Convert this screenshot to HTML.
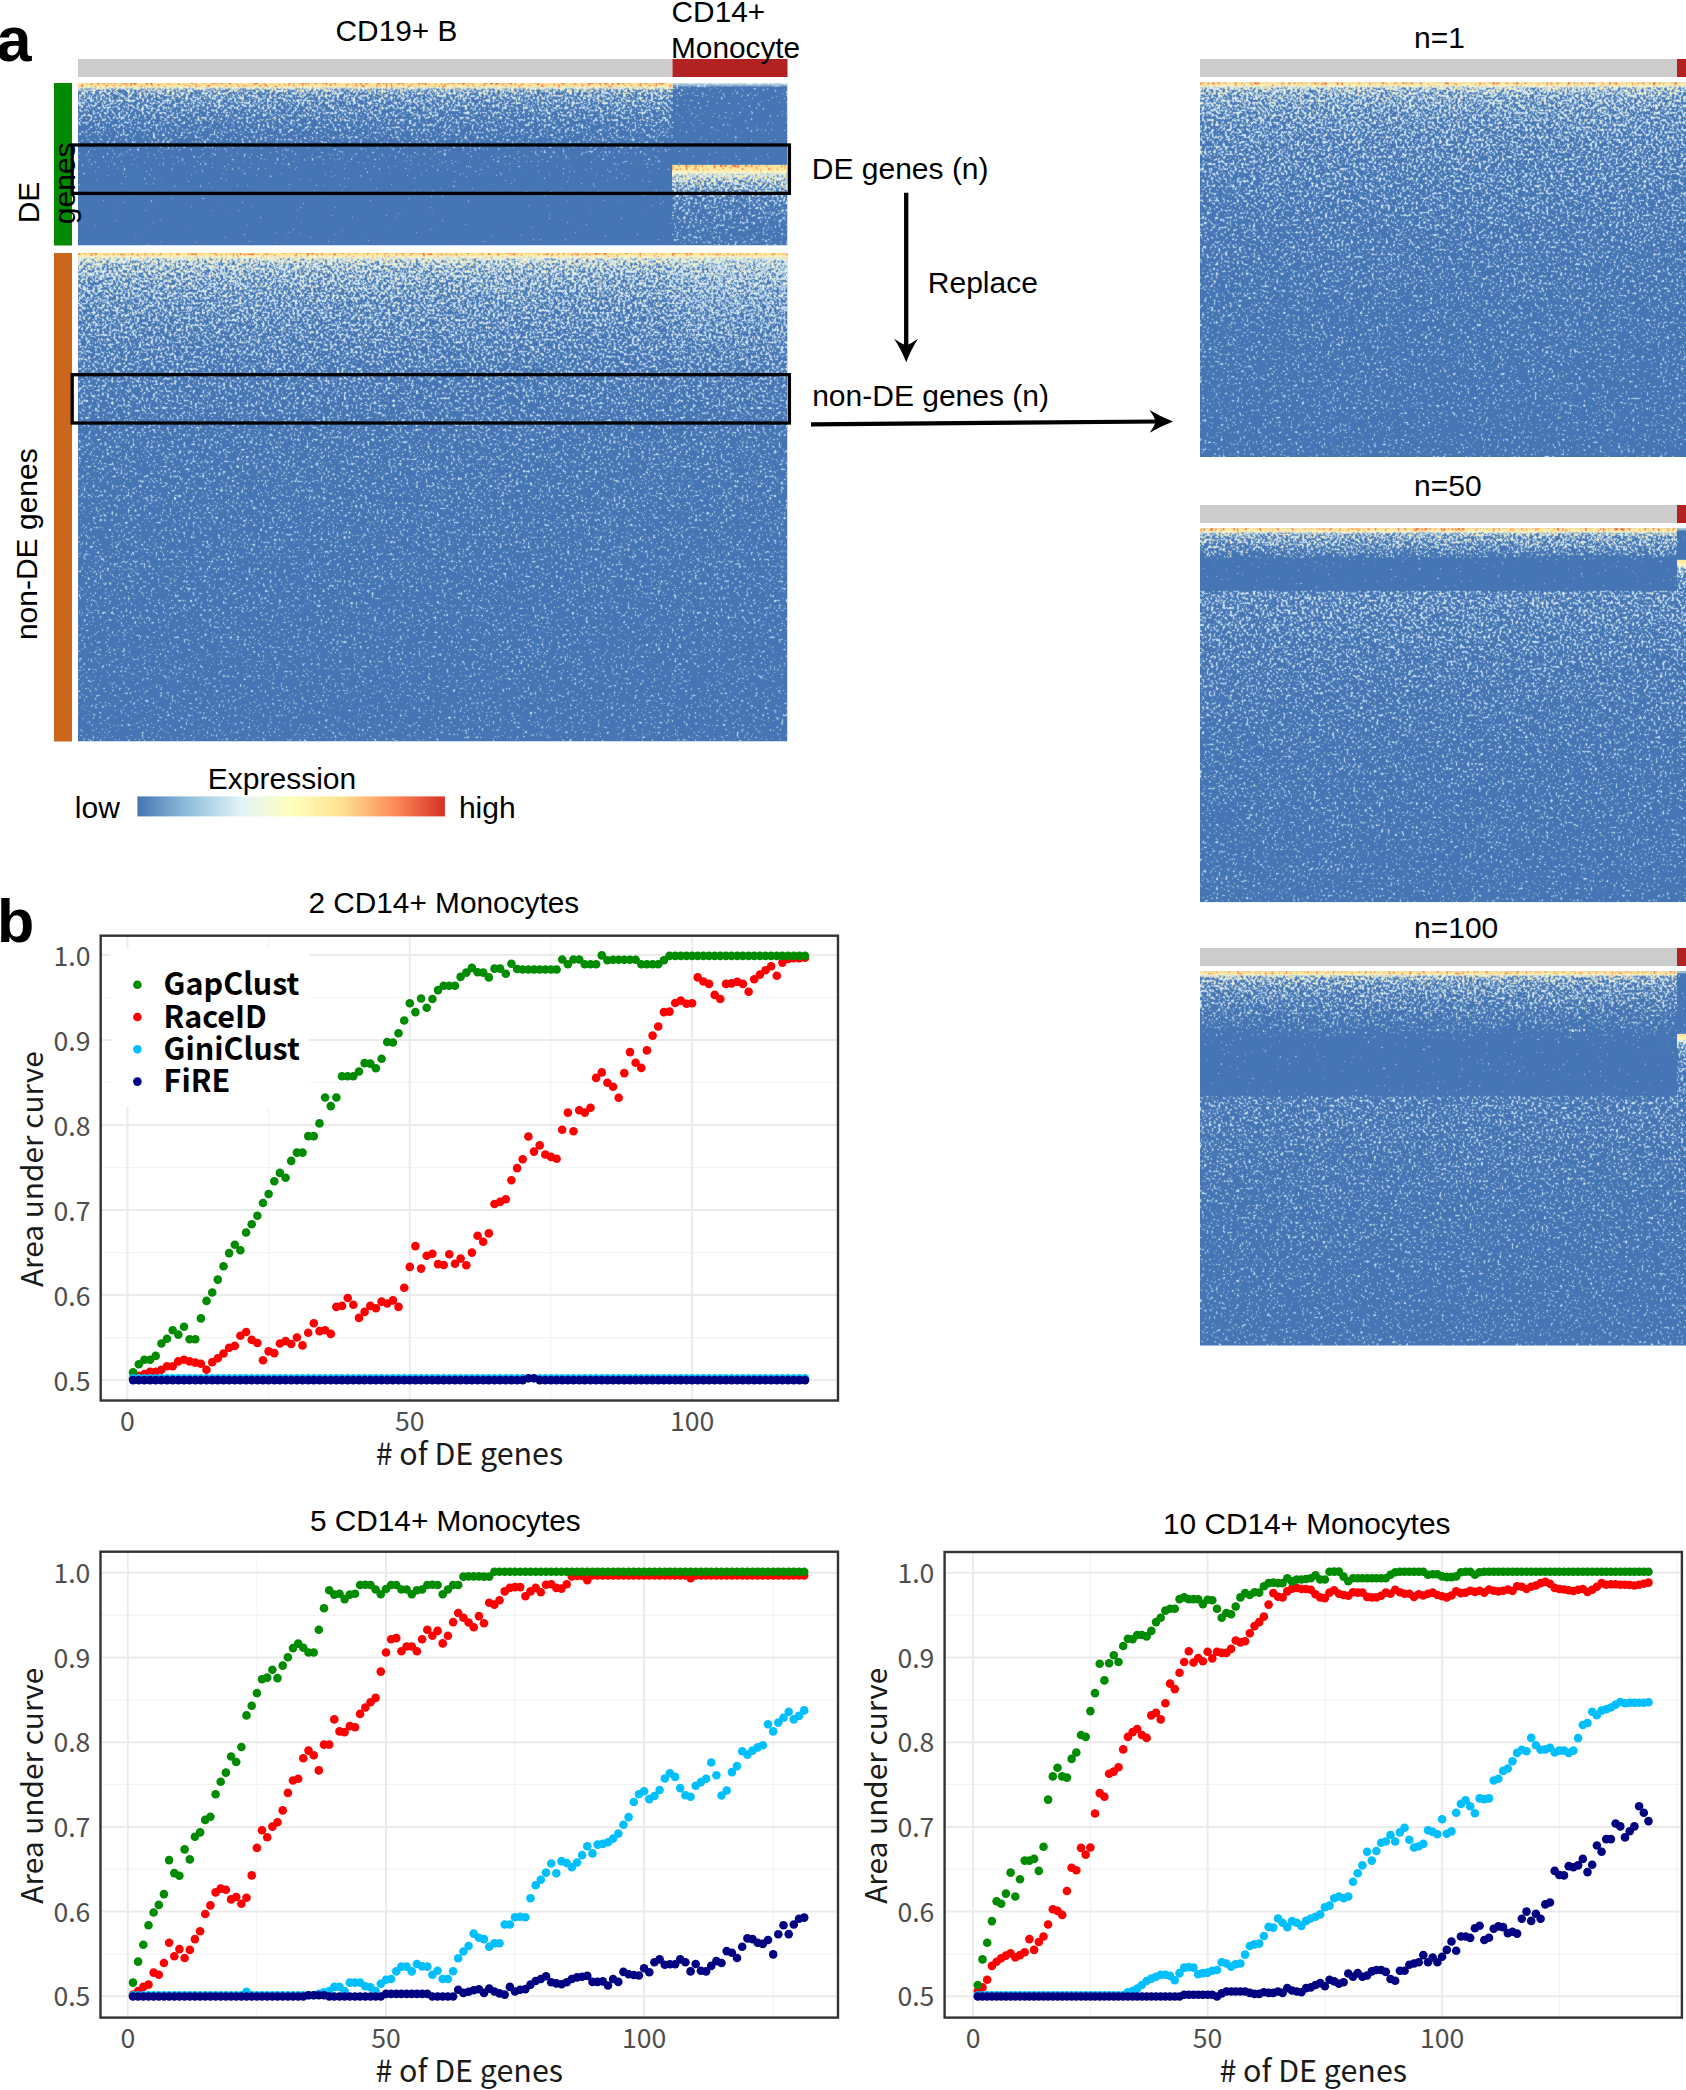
<!DOCTYPE html>
<html lang="en"><head><meta charset="utf-8"><title>Figure</title>
<style>html,body{margin:0;padding:0;background:#fff}svg{display:block}.t{font-family:"Liberation Sans", Arial, Helvetica, sans-serif;fill:#000}.p{font-family:"Noto Sans CJK SC", "Noto Sans CJK JP", "Liberation Sans", sans-serif}</style></head><body>
<svg width="1686" height="2090" viewBox="0 0 1686 2090">
<defs>
<filter id="nz" x="0" y="0" width="1" height="1" color-interpolation-filters="sRGB">
<feTurbulence type="fractalNoise" baseFrequency="0.43 0.41" numOctaves="2" seed="3" result="n"/>
<feColorMatrix in="n" type="matrix" values="0 0 0 0 0  0 0 0 0 0  0 0 0 0 0  0 0 0 1 0" result="na"/>
<feComposite in="na" in2="SourceGraphic" operator="arithmetic" k1="0" k2="1" k3="1" k4="-1" result="s"/>
<feComponentTransfer in="s" result="m1"><feFuncA type="linear" slope="40" intercept="0"/></feComponentTransfer>
<feFlood flood-color="#b2d4ea" result="c1"/><feComposite in="c1" in2="m1" operator="in" result="l1"/>
<feComponentTransfer in="s" result="m2"><feFuncA type="linear" slope="40" intercept="-2.8000000000000003"/></feComponentTransfer>
<feFlood flood-color="#deeef6" result="c2"/><feComposite in="c2" in2="m2" operator="in" result="l2"/>
<feComponentTransfer in="s" result="m3"><feFuncA type="linear" slope="40" intercept="-8.0"/></feComponentTransfer>
<feFlood flood-color="#fdf6c4" result="c3"/><feComposite in="c3" in2="m3" operator="in" result="l3"/>
<feMerge result="mg"><feMergeNode in="l1"/><feMergeNode in="l2"/><feMergeNode in="l3"/></feMerge>
<feConvolveMatrix in="mg" order="3" kernelMatrix="1 2 1 2 14 2 1 2 1" preserveAlpha="false" edgeMode="duplicate"/>
</filter>
<filter id="nz2" x="0" y="0" width="1" height="1" color-interpolation-filters="sRGB">
<feTurbulence type="fractalNoise" baseFrequency="0.43 0.41" numOctaves="2" seed="11" result="n"/>
<feColorMatrix in="n" type="matrix" values="0 0 0 0 0  0 0 0 0 0  0 0 0 0 0  0 0 0 1 0" result="na"/>
<feComposite in="na" in2="SourceGraphic" operator="arithmetic" k1="0" k2="1" k3="1" k4="-1" result="s"/>
<feComponentTransfer in="s" result="m1"><feFuncA type="linear" slope="40" intercept="0"/></feComponentTransfer>
<feFlood flood-color="#b2d4ea" result="c1"/><feComposite in="c1" in2="m1" operator="in" result="l1"/>
<feComponentTransfer in="s" result="m2"><feFuncA type="linear" slope="40" intercept="-2.8000000000000003"/></feComponentTransfer>
<feFlood flood-color="#deeef6" result="c2"/><feComposite in="c2" in2="m2" operator="in" result="l2"/>
<feComponentTransfer in="s" result="m3"><feFuncA type="linear" slope="40" intercept="-8.0"/></feComponentTransfer>
<feFlood flood-color="#fdf6c4" result="c3"/><feComposite in="c3" in2="m3" operator="in" result="l3"/>
<feMerge result="mg"><feMergeNode in="l1"/><feMergeNode in="l2"/><feMergeNode in="l3"/></feMerge>
<feConvolveMatrix in="mg" order="3" kernelMatrix="1 2 1 2 14 2 1 2 1" preserveAlpha="false" edgeMode="duplicate"/>
</filter>
<filter id="nzy" x="0" y="0" width="1" height="1" color-interpolation-filters="sRGB">
<feTurbulence type="fractalNoise" baseFrequency="0.43 0.41" numOctaves="2" seed="5" result="n"/>
<feColorMatrix in="n" type="matrix" values="0 0 0 0 0  0 0 0 0 0  0 0 0 0 0  0 0 0 1 0" result="na"/>
<feComposite in="na" in2="SourceGraphic" operator="arithmetic" k1="0" k2="1" k3="1" k4="-1" result="s"/>
<feComponentTransfer in="s" result="m1"><feFuncA type="linear" slope="40" intercept="0"/></feComponentTransfer>
<feFlood flood-color="#eef3d6" result="c1"/><feComposite in="c1" in2="m1" operator="in" result="l1"/>
<feComponentTransfer in="s" result="m2"><feFuncA type="linear" slope="40" intercept="-2.0"/></feComponentTransfer>
<feFlood flood-color="#fcf3b8" result="c2"/><feComposite in="c2" in2="m2" operator="in" result="l2"/>
<feComponentTransfer in="s" result="m3"><feFuncA type="linear" slope="40" intercept="-4.8"/></feComponentTransfer>
<feFlood flood-color="#fedd8f" result="c3"/><feComposite in="c3" in2="m3" operator="in" result="l3"/>
<feMerge result="mg"><feMergeNode in="l1"/><feMergeNode in="l2"/><feMergeNode in="l3"/></feMerge>
<feConvolveMatrix in="mg" order="3" kernelMatrix="1 2 1 2 14 2 1 2 1" preserveAlpha="false" edgeMode="duplicate"/>
</filter>
<filter id="nzo" x="0" y="0" width="1" height="1" color-interpolation-filters="sRGB">
<feTurbulence type="fractalNoise" baseFrequency="0.43 0.41" numOctaves="2" seed="7" result="n"/>
<feColorMatrix in="n" type="matrix" values="0 0 0 0 0  0 0 0 0 0  0 0 0 0 0  0 0 0 1 0" result="na"/>
<feComposite in="na" in2="SourceGraphic" operator="arithmetic" k1="0" k2="1" k3="1" k4="-1" result="s"/>
<feComponentTransfer in="s" result="m1"><feFuncA type="linear" slope="40" intercept="0"/></feComponentTransfer>
<feFlood flood-color="#fdc47a" result="c1"/><feComposite in="c1" in2="m1" operator="in" result="l1"/>
<feComponentTransfer in="s" result="m2"><feFuncA type="linear" slope="40" intercept="-2.4"/></feComponentTransfer>
<feFlood flood-color="#f89a58" result="c2"/><feComposite in="c2" in2="m2" operator="in" result="l2"/>
<feComponentTransfer in="s" result="m3"><feFuncA type="linear" slope="40" intercept="-5.2"/></feComponentTransfer>
<feFlood flood-color="#e65f3c" result="c3"/><feComposite in="c3" in2="m3" operator="in" result="l3"/>
<feMerge result="mg"><feMergeNode in="l1"/><feMergeNode in="l2"/><feMergeNode in="l3"/></feMerge>
<feConvolveMatrix in="mg" order="3" kernelMatrix="1 2 1 2 14 2 1 2 1" preserveAlpha="false" edgeMode="duplicate"/>
</filter>
<linearGradient id="dDEb" gradientUnits="userSpaceOnUse" x1="0" y1="83" x2="0" y2="245.5"><stop offset="0.0000" stop-color="#000" stop-opacity="0.561"/><stop offset="0.0369" stop-color="#000" stop-opacity="0.490"/><stop offset="0.1046" stop-color="#000" stop-opacity="0.474"/><stop offset="0.1785" stop-color="#000" stop-opacity="0.443"/><stop offset="0.2585" stop-color="#000" stop-opacity="0.405"/><stop offset="0.3508" stop-color="#000" stop-opacity="0.372"/><stop offset="0.3877" stop-color="#000" stop-opacity="0.319"/><stop offset="0.4615" stop-color="#000" stop-opacity="0.296"/><stop offset="0.5231" stop-color="#000" stop-opacity="0.275"/><stop offset="0.5969" stop-color="#000" stop-opacity="0.235"/><stop offset="0.7200" stop-color="#000" stop-opacity="0.212"/><stop offset="1.0000" stop-color="#000" stop-opacity="0.197"/></linearGradient>
<linearGradient id="dDEm" gradientUnits="userSpaceOnUse" x1="0" y1="83" x2="0" y2="245.5"><stop offset="0.0000" stop-color="#000" stop-opacity="0.490"/><stop offset="0.0246" stop-color="#000" stop-opacity="0.330"/><stop offset="0.1046" stop-color="#000" stop-opacity="0.302"/><stop offset="0.2892" stop-color="#000" stop-opacity="0.282"/><stop offset="0.4123" stop-color="#000" stop-opacity="0.247"/><stop offset="0.5058" stop-color="#000" stop-opacity="0.240"/><stop offset="0.5065" stop-color="#000" stop-opacity="0.741"/><stop offset="0.5477" stop-color="#000" stop-opacity="0.676"/><stop offset="0.5600" stop-color="#000" stop-opacity="0.570"/><stop offset="0.6092" stop-color="#000" stop-opacity="0.526"/><stop offset="0.6585" stop-color="#000" stop-opacity="0.477"/><stop offset="0.7015" stop-color="#000" stop-opacity="0.443"/><stop offset="0.7815" stop-color="#000" stop-opacity="0.409"/><stop offset="0.8738" stop-color="#000" stop-opacity="0.377"/><stop offset="1.0000" stop-color="#000" stop-opacity="0.346"/></linearGradient>
<linearGradient id="dND" gradientUnits="userSpaceOnUse" x1="0" y1="253" x2="0" y2="741.5"><stop offset="0.0000" stop-color="#000" stop-opacity="0.659"/><stop offset="0.0123" stop-color="#000" stop-opacity="0.595"/><stop offset="0.0246" stop-color="#000" stop-opacity="0.547"/><stop offset="0.0553" stop-color="#000" stop-opacity="0.511"/><stop offset="0.0962" stop-color="#000" stop-opacity="0.483"/><stop offset="0.1576" stop-color="#000" stop-opacity="0.455"/><stop offset="0.2395" stop-color="#000" stop-opacity="0.419"/><stop offset="0.3419" stop-color="#000" stop-opacity="0.377"/><stop offset="0.5056" stop-color="#000" stop-opacity="0.354"/><stop offset="0.6694" stop-color="#000" stop-opacity="0.341"/><stop offset="1.0000" stop-color="#000" stop-opacity="0.319"/></linearGradient>
<linearGradient id="top" x1="0" y1="0" x2="0" y2="1"><stop offset="0" stop-color="#fedc8c" stop-opacity="1"/><stop offset="0.4" stop-color="#ffeeaa" stop-opacity="1"/><stop offset="0.62" stop-color="#fbf5c6" stop-opacity="0.8"/><stop offset="0.8" stop-color="#eef4dc" stop-opacity="0.4"/><stop offset="1" stop-color="#dcedf0" stop-opacity="0"/></linearGradient>
<linearGradient id="topm" x1="0" y1="0" x2="0" y2="1"><stop offset="0" stop-color="#e8f1e4" stop-opacity="0.9"/><stop offset="0.5" stop-color="#cfe6ee" stop-opacity="0.5"/><stop offset="1" stop-color="#cfe6ee" stop-opacity="0"/></linearGradient>
<linearGradient id="band" x1="0" y1="0" x2="0" y2="1"><stop offset="0" stop-color="#fee496" stop-opacity="1"/><stop offset="0.5" stop-color="#fff2b2" stop-opacity="1"/><stop offset="0.62" stop-color="#f3f6d3" stop-opacity="0.7"/><stop offset="1" stop-color="#d4e9ef" stop-opacity="0.0"/></linearGradient>
<linearGradient id="cbar" x1="0" y1="0" x2="1" y2="0"><stop offset="0" stop-color="#4575b4" stop-opacity="1"/><stop offset="0.1667" stop-color="#91bfdb" stop-opacity="1"/><stop offset="0.3333" stop-color="#e0f3f8" stop-opacity="1"/><stop offset="0.5" stop-color="#ffffbf" stop-opacity="1"/><stop offset="0.6667" stop-color="#fee090" stop-opacity="1"/><stop offset="0.8333" stop-color="#fc8d59" stop-opacity="1"/><stop offset="1" stop-color="#d73027" stop-opacity="1"/></linearGradient>
</defs>
<rect width="1686" height="2090" fill="#fff"/>
<g id="heat-left">
<rect x="78" y="59" width="594.5" height="18" fill="#cccccc"/><rect x="672.5" y="59" width="115" height="18" fill="#b22222"/>
<rect x="54" y="83" width="18" height="162.5" fill="#008b00"/><rect x="54" y="253" width="18" height="488.5" fill="#cd661d"/>
<clipPath id="cDE"><rect x="78" y="83" width="709.5" height="162.5"/></clipPath><clipPath id="cND"><rect x="78" y="253" width="709.5" height="488.5"/></clipPath>
<g clip-path="url(#cDE)">
<rect x="78" y="83" width="709.5" height="162.5" fill="#4575b4"/>
<rect x="78" y="83" width="594.5" height="162.5" fill="url(#dDEb)" filter="url(#nz)"/>
<rect x="672.5" y="83" width="115" height="162.5" fill="url(#dDEm)" filter="url(#nz2)"/>
<defs><linearGradient id="yDEb" gradientUnits="userSpaceOnUse" x1="0" y1="83" x2="0" y2="120"><stop offset="0.0000" stop-color="#000" stop-opacity="0.498"/><stop offset="0.1351" stop-color="#000" stop-opacity="0.455"/><stop offset="0.2973" stop-color="#000" stop-opacity="0.354"/><stop offset="0.5676" stop-color="#000" stop-opacity="0.286"/><stop offset="1.0000" stop-color="#000" stop-opacity="0.235"/></linearGradient><linearGradient id="oDEb" gradientUnits="userSpaceOnUse" x1="0" y1="83" x2="0" y2="90"><stop offset="0.0000" stop-color="#000" stop-opacity="0.476"/><stop offset="0.4286" stop-color="#000" stop-opacity="0.439"/><stop offset="0.7143" stop-color="#000" stop-opacity="0.307"/><stop offset="1.0000" stop-color="#000" stop-opacity="0.130"/></linearGradient><linearGradient id="yDEm" gradientUnits="userSpaceOnUse" x1="0" y1="165" x2="0" y2="200"><stop offset="0.0000" stop-color="#000" stop-opacity="0.529"/><stop offset="0.2000" stop-color="#000" stop-opacity="0.514"/><stop offset="0.3714" stop-color="#000" stop-opacity="0.455"/><stop offset="0.6000" stop-color="#000" stop-opacity="0.387"/><stop offset="1.0000" stop-color="#000" stop-opacity="0.286"/></linearGradient><linearGradient id="oDEm" gradientUnits="userSpaceOnUse" x1="0" y1="165" x2="0" y2="174"><stop offset="0.0000" stop-color="#000" stop-opacity="0.455"/><stop offset="0.5556" stop-color="#000" stop-opacity="0.417"/><stop offset="0.7778" stop-color="#000" stop-opacity="0.298"/><stop offset="1.0000" stop-color="#000" stop-opacity="0.130"/></linearGradient></defs>
<rect x="78" y="83" width="594.5" height="37" fill="url(#yDEb)" filter="url(#nzy)"/>
<rect x="78" y="83" width="594.5" height="7" fill="url(#top)"/>
<rect x="78" y="83" width="594.5" height="7" fill="url(#oDEb)" filter="url(#nzo)"/>
<rect x="78" y="119" width="594.5" height="2" fill="#000" fill-opacity="0.281" filter="url(#nzo)"/>
<rect x="672.5" y="83" width="115" height="4.5" fill="url(#topm)"/>
<rect x="672.5" y="165" width="115" height="35" fill="url(#yDEm)" filter="url(#nzy)"/>
<rect x="672.5" y="165.3" width="115" height="12" fill="url(#band)"/>
<rect x="672.5" y="165.3" width="115" height="9" fill="url(#oDEm)" filter="url(#nzo)"/>
</g>
<g clip-path="url(#cND)">
<rect x="78" y="253" width="709.5" height="488.5" fill="#4575b4"/>
<rect x="78" y="253" width="709.5" height="488.5" fill="url(#dND)" filter="url(#nz)"/>
<defs><linearGradient id="dNDm" gradientUnits="userSpaceOnUse" x1="0" y1="253" x2="0" y2="400"><stop offset="0.0000" stop-color="#000" stop-opacity="0.439"/><stop offset="0.2517" stop-color="#000" stop-opacity="0.422"/><stop offset="0.5238" stop-color="#000" stop-opacity="0.373"/><stop offset="0.7959" stop-color="#000" stop-opacity="0.298"/><stop offset="1.0000" stop-color="#000" stop-opacity="0.130"/></linearGradient><linearGradient id="yND" gradientUnits="userSpaceOnUse" x1="0" y1="253" x2="0" y2="340"><stop offset="0.0000" stop-color="#000" stop-opacity="0.529"/><stop offset="0.0575" stop-color="#000" stop-opacity="0.476"/><stop offset="0.1264" stop-color="#000" stop-opacity="0.396"/><stop offset="0.2529" stop-color="#000" stop-opacity="0.341"/><stop offset="0.4828" stop-color="#000" stop-opacity="0.298"/><stop offset="1.0000" stop-color="#000" stop-opacity="0.235"/></linearGradient><linearGradient id="oND" gradientUnits="userSpaceOnUse" x1="0" y1="253" x2="0" y2="260"><stop offset="0.0000" stop-color="#000" stop-opacity="0.476"/><stop offset="0.3571" stop-color="#000" stop-opacity="0.430"/><stop offset="0.5714" stop-color="#000" stop-opacity="0.298"/><stop offset="1.0000" stop-color="#000" stop-opacity="0.130"/></linearGradient></defs>
<rect x="672.5" y="253" width="115" height="147" fill="url(#dNDm)" filter="url(#nz2)"/>
<rect x="78" y="253" width="709.5" height="87" fill="url(#yND)" filter="url(#nzy)"/>
<rect x="78" y="253" width="709.5" height="6.5" fill="url(#top)"/>
<rect x="78" y="253" width="709.5" height="7" fill="url(#oND)" filter="url(#nzo)"/>
</g>
<rect x="72.2" y="145" width="717.2" height="48.4" fill="none" stroke="#000" stroke-width="3.3"/>
<rect x="72.2" y="374.7" width="717.2" height="48.3" fill="none" stroke="#000" stroke-width="3.3"/>
</g>
<text class="t" x="-3.5" y="61" font-size="63" text-anchor="start" font-weight="bold">a</text>
<text class="t" x="-3" y="942.3" font-size="61" text-anchor="start" font-weight="bold">b</text>
<text class="t" x="335.6" y="41" font-size="29.8" text-anchor="start" >CD19+ B</text>
<text class="t" x="671.6" y="22.3" font-size="29.8" text-anchor="start" >CD14+</text>
<text class="t" x="671" y="57.7" font-size="29.8" text-anchor="start" >Monocyte</text>
<text class="t" font-size="30" text-anchor="middle" transform="translate(39,202.5) rotate(-90)">DE</text>
<text class="t" font-size="30" text-anchor="middle" transform="translate(74.9,183.3) rotate(-90)">genes</text>
<text class="t" font-size="30" text-anchor="middle" transform="translate(36.6,544.2) rotate(-90)">non-DE genes</text>
<text class="t" x="811.8" y="178.8" font-size="30" text-anchor="start" >DE genes (n)</text>
<text class="t" x="927.8" y="292.6" font-size="30" text-anchor="start" >Replace</text>
<text class="t" x="812.2" y="405.9" font-size="30" text-anchor="start" >non-DE genes (n)</text>
<text class="t" x="207.8" y="789" font-size="30" text-anchor="start" >Expression</text>
<text class="t" x="74.8" y="817.8" font-size="30" text-anchor="start" >low</text>
<text class="t" x="458.9" y="817.8" font-size="30" text-anchor="start" >high</text>
<rect x="137.4" y="796.4" width="307.5" height="20" fill="url(#cbar)"/>
<line x1="906.2" y1="192.7" x2="906.2" y2="348" stroke="#000" stroke-width="4.3"/>
<path d="M906.2 362.3 Q901 349 894 338.8 Q900 343 906.2 345.5 Q912.4 343 918 338.8 Q911.4 349 906.2 362.3 Z" fill="#000"/>
<line x1="811" y1="424.4" x2="1160" y2="421.5" stroke="#000" stroke-width="4.2"/>
<path d="M1173 421.4 Q1160 416.4 1149.5 410 Q1153.8 416 1156 421.5 Q1153.8 427 1149.7 432.8 Q1160 426.5 1173 421.4 Z" fill="#000"/>
<g>
<text class="t" x="1414" y="47.9" font-size="30" text-anchor="start" >n=1</text>
<rect x="1200" y="59" width="477" height="18" fill="#cccccc"/><rect x="1677" y="59" width="9" height="18" fill="#b22222"/>
<clipPath id="cdR82"><rect x="1200" y="82.5" width="486" height="374.5"/></clipPath>
<g clip-path="url(#cdR82)">
<defs><linearGradient id="dR82" gradientUnits="userSpaceOnUse" x1="0" y1="82.5" x2="0" y2="457"><stop offset="0.0000" stop-color="#000" stop-opacity="0.659"/><stop offset="0.0080" stop-color="#000" stop-opacity="0.595"/><stop offset="0.0160" stop-color="#000" stop-opacity="0.547"/><stop offset="0.0320" stop-color="#000" stop-opacity="0.518"/><stop offset="0.0668" stop-color="#000" stop-opacity="0.490"/><stop offset="0.1202" stop-color="#000" stop-opacity="0.467"/><stop offset="0.1682" stop-color="#000" stop-opacity="0.455"/><stop offset="0.2403" stop-color="#000" stop-opacity="0.435"/><stop offset="0.3338" stop-color="#000" stop-opacity="0.409"/><stop offset="0.4539" stop-color="#000" stop-opacity="0.385"/><stop offset="0.6142" stop-color="#000" stop-opacity="0.358"/><stop offset="0.8011" stop-color="#000" stop-opacity="0.341"/><stop offset="1.0000" stop-color="#000" stop-opacity="0.325"/></linearGradient><linearGradient id="dR82y" gradientUnits="userSpaceOnUse" x1="0" y1="82.5" x2="0" y2="142.5"><stop offset="0.0000" stop-color="#000" stop-opacity="0.529"/><stop offset="0.0667" stop-color="#000" stop-opacity="0.471"/><stop offset="0.1500" stop-color="#000" stop-opacity="0.378"/><stop offset="0.3333" stop-color="#000" stop-opacity="0.315"/><stop offset="0.6667" stop-color="#000" stop-opacity="0.275"/><stop offset="1.0000" stop-color="#000" stop-opacity="0.226"/></linearGradient><linearGradient id="dR82o" gradientUnits="userSpaceOnUse" x1="0" y1="82.5" x2="0" y2="88.5"><stop offset="0.0000" stop-color="#000" stop-opacity="0.476"/><stop offset="0.3667" stop-color="#000" stop-opacity="0.430"/><stop offset="0.5833" stop-color="#000" stop-opacity="0.298"/><stop offset="1.0000" stop-color="#000" stop-opacity="0.130"/></linearGradient></defs>
<rect x="1200" y="82.5" width="486" height="374.5" fill="#4575b4"/>
<rect x="1200" y="82.5" width="486" height="374.5" fill="url(#dR82)" filter="url(#nz)"/>
<rect x="1200" y="82.5" width="477" height="60" fill="url(#dR82y)" filter="url(#nzy)"/>
<rect x="1200" y="82.5" width="477" height="5.5" fill="url(#top)"/>
<rect x="1200" y="82.5" width="477" height="6" fill="url(#dR82o)" filter="url(#nzo)"/>
<rect x="1677" y="82.5" width="9" height="5.5" fill="url(#top)"/>
</g></g>
<g>
<text class="t" x="1414" y="495.5" font-size="30" text-anchor="start" >n=50</text>
<rect x="1200" y="505" width="477" height="18" fill="#cccccc"/><rect x="1677" y="505" width="9" height="18" fill="#b22222"/>
<clipPath id="cdR528"><rect x="1200" y="528.3" width="486" height="374.0"/></clipPath>
<g clip-path="url(#cdR528)">
<defs><linearGradient id="dR528" gradientUnits="userSpaceOnUse" x1="0" y1="528.3" x2="0" y2="902.3"><stop offset="0.0000" stop-color="#000" stop-opacity="0.659"/><stop offset="0.0080" stop-color="#000" stop-opacity="0.561"/><stop offset="0.0160" stop-color="#000" stop-opacity="0.496"/><stop offset="0.0374" stop-color="#000" stop-opacity="0.477"/><stop offset="0.0535" stop-color="#000" stop-opacity="0.440"/><stop offset="0.0695" stop-color="#000" stop-opacity="0.385"/><stop offset="0.0802" stop-color="#000" stop-opacity="0.308"/><stop offset="0.0856" stop-color="#000" stop-opacity="0.240"/><stop offset="0.1668" stop-color="#000" stop-opacity="0.221"/><stop offset="0.1690" stop-color="#000" stop-opacity="0.455"/><stop offset="0.2406" stop-color="#000" stop-opacity="0.435"/><stop offset="0.3342" stop-color="#000" stop-opacity="0.409"/><stop offset="0.4545" stop-color="#000" stop-opacity="0.385"/><stop offset="0.6150" stop-color="#000" stop-opacity="0.358"/><stop offset="0.8021" stop-color="#000" stop-opacity="0.341"/><stop offset="1.0013" stop-color="#000" stop-opacity="0.325"/></linearGradient><linearGradient id="dR528y" gradientUnits="userSpaceOnUse" x1="0" y1="528.3" x2="0" y2="588.3"><stop offset="0.0000" stop-color="#000" stop-opacity="0.529"/><stop offset="0.0667" stop-color="#000" stop-opacity="0.471"/><stop offset="0.1500" stop-color="#000" stop-opacity="0.378"/><stop offset="0.3333" stop-color="#000" stop-opacity="0.315"/><stop offset="0.6667" stop-color="#000" stop-opacity="0.275"/><stop offset="1.0000" stop-color="#000" stop-opacity="0.226"/></linearGradient><linearGradient id="dR528o" gradientUnits="userSpaceOnUse" x1="0" y1="528.3" x2="0" y2="534.3"><stop offset="0.0000" stop-color="#000" stop-opacity="0.476"/><stop offset="0.3667" stop-color="#000" stop-opacity="0.430"/><stop offset="0.5833" stop-color="#000" stop-opacity="0.298"/><stop offset="1.0000" stop-color="#000" stop-opacity="0.130"/></linearGradient></defs>
<rect x="1200" y="528.3" width="486" height="374.0" fill="#4575b4"/>
<rect x="1200" y="528.3" width="486" height="374.0" fill="url(#dR528)" filter="url(#nz)"/>
<rect x="1200" y="528.3" width="477" height="28.5" fill="url(#dR528y)" filter="url(#nzy)"/>
<rect x="1200" y="528.3" width="477" height="5.5" fill="url(#top)"/>
<rect x="1200" y="528.3" width="477" height="6" fill="url(#dR528o)" filter="url(#nzo)"/>
<rect x="1677" y="528.3" width="9" height="63.200000000000045" fill="#4575b4"/>
<rect x="1677" y="528.3" width="9" height="3" fill="url(#topm)"/>
<defs><linearGradient id="dR528m" gradientUnits="userSpaceOnUse" x1="0" y1="528.3" x2="0" y2="591.5"><stop offset="0.0000" stop-color="#000" stop-opacity="0.259"/><stop offset="0.5000" stop-color="#000" stop-opacity="0.235"/><stop offset="0.5016" stop-color="#000" stop-opacity="0.728"/><stop offset="0.5807" stop-color="#000" stop-opacity="0.627"/><stop offset="0.6598" stop-color="#000" stop-opacity="0.526"/><stop offset="0.8180" stop-color="#000" stop-opacity="0.463"/><stop offset="1.0000" stop-color="#000" stop-opacity="0.409"/></linearGradient></defs>
<rect x="1677" y="528.3" width="9" height="63.200000000000045" fill="url(#dR528m)" filter="url(#nz2)"/>
<rect x="1677" y="560" width="9" height="9" fill="url(#band)"/>
</g></g>
<g>
<text class="t" x="1414" y="937.5" font-size="30" text-anchor="start" >n=100</text>
<rect x="1200" y="948" width="477" height="18" fill="#cccccc"/><rect x="1677" y="948" width="9" height="18" fill="#b22222"/>
<clipPath id="cdR971"><rect x="1200" y="971.3" width="486" height="374.4000000000001"/></clipPath>
<g clip-path="url(#cdR971)">
<defs><linearGradient id="dR971" gradientUnits="userSpaceOnUse" x1="0" y1="971.3" x2="0" y2="1345.7"><stop offset="0.0000" stop-color="#000" stop-opacity="0.659"/><stop offset="0.0093" stop-color="#000" stop-opacity="0.526"/><stop offset="0.0214" stop-color="#000" stop-opacity="0.490"/><stop offset="0.0481" stop-color="#000" stop-opacity="0.463"/><stop offset="0.0881" stop-color="#000" stop-opacity="0.419"/><stop offset="0.1282" stop-color="#000" stop-opacity="0.367"/><stop offset="0.1549" stop-color="#000" stop-opacity="0.319"/><stop offset="0.1763" stop-color="#000" stop-opacity="0.275"/><stop offset="0.1875" stop-color="#000" stop-opacity="0.240"/><stop offset="0.3325" stop-color="#000" stop-opacity="0.221"/><stop offset="0.3347" stop-color="#000" stop-opacity="0.409"/><stop offset="0.4541" stop-color="#000" stop-opacity="0.385"/><stop offset="0.6143" stop-color="#000" stop-opacity="0.358"/><stop offset="0.8013" stop-color="#000" stop-opacity="0.341"/><stop offset="1.0003" stop-color="#000" stop-opacity="0.325"/></linearGradient><linearGradient id="dR971y" gradientUnits="userSpaceOnUse" x1="0" y1="971.3" x2="0" y2="1031.3"><stop offset="0.0000" stop-color="#000" stop-opacity="0.529"/><stop offset="0.0667" stop-color="#000" stop-opacity="0.471"/><stop offset="0.1500" stop-color="#000" stop-opacity="0.378"/><stop offset="0.3333" stop-color="#000" stop-opacity="0.315"/><stop offset="0.6667" stop-color="#000" stop-opacity="0.275"/><stop offset="1.0000" stop-color="#000" stop-opacity="0.226"/></linearGradient><linearGradient id="dR971o" gradientUnits="userSpaceOnUse" x1="0" y1="971.3" x2="0" y2="977.3"><stop offset="0.0000" stop-color="#000" stop-opacity="0.476"/><stop offset="0.3667" stop-color="#000" stop-opacity="0.430"/><stop offset="0.5833" stop-color="#000" stop-opacity="0.298"/><stop offset="1.0000" stop-color="#000" stop-opacity="0.130"/></linearGradient></defs>
<rect x="1200" y="971.3" width="486" height="374.4000000000001" fill="#4575b4"/>
<rect x="1200" y="971.3" width="486" height="374.4000000000001" fill="url(#dR971)" filter="url(#nz)"/>
<rect x="1200" y="971.3" width="477" height="60" fill="url(#dR971y)" filter="url(#nzy)"/>
<rect x="1200" y="971.3" width="477" height="5.5" fill="url(#top)"/>
<rect x="1200" y="971.3" width="477" height="6" fill="url(#dR971o)" filter="url(#nzo)"/>
<rect x="1677" y="971.3" width="9" height="125.29999999999995" fill="#4575b4"/>
<rect x="1677" y="971.3" width="9" height="3" fill="url(#topm)"/>
<defs><linearGradient id="dR971m" gradientUnits="userSpaceOnUse" x1="0" y1="971.3" x2="0" y2="1096.6"><stop offset="0.0000" stop-color="#000" stop-opacity="0.259"/><stop offset="0.5036" stop-color="#000" stop-opacity="0.235"/><stop offset="0.5044" stop-color="#000" stop-opacity="0.728"/><stop offset="0.5443" stop-color="#000" stop-opacity="0.627"/><stop offset="0.5842" stop-color="#000" stop-opacity="0.526"/><stop offset="0.6640" stop-color="#000" stop-opacity="0.463"/><stop offset="1.0000" stop-color="#000" stop-opacity="0.409"/></linearGradient></defs>
<rect x="1677" y="971.3" width="9" height="125.29999999999995" fill="url(#dR971m)" filter="url(#nz2)"/>
<rect x="1677" y="1034.5" width="9" height="9" fill="url(#band)"/>
</g></g>
<g>
<rect x="100.7" y="935.7" width="737.3" height="464.79999999999995" fill="#fff"/>
<line x1="100.7" x2="838" y1="997.5" y2="997.5" stroke="#f3f3f3" stroke-width="1.1"/>
<line x1="100.7" x2="838" y1="1082.5" y2="1082.5" stroke="#f3f3f3" stroke-width="1.1"/>
<line x1="100.7" x2="838" y1="1167.5" y2="1167.5" stroke="#f3f3f3" stroke-width="1.1"/>
<line x1="100.7" x2="838" y1="1252.6" y2="1252.6" stroke="#f3f3f3" stroke-width="1.1"/>
<line x1="100.7" x2="838" y1="1337.6" y2="1337.6" stroke="#f3f3f3" stroke-width="1.1"/>
<line x1="268.6" x2="268.6" y1="935.7" y2="1400.5" stroke="#f3f3f3" stroke-width="1.1"/>
<line x1="551.0" x2="551.0" y1="935.7" y2="1400.5" stroke="#f3f3f3" stroke-width="1.1"/>
<line x1="100.7" x2="838" y1="955.0" y2="955.0" stroke="#ebebeb" stroke-width="2"/>
<text class="p" x="90.5" y="965.8" font-size="26.6" fill="#4d4d4d" text-anchor="end">1.0</text>
<line x1="100.7" x2="838" y1="1040.0" y2="1040.0" stroke="#ebebeb" stroke-width="2"/>
<text class="p" x="90.5" y="1050.8" font-size="26.6" fill="#4d4d4d" text-anchor="end">0.9</text>
<line x1="100.7" x2="838" y1="1125.0" y2="1125.0" stroke="#ebebeb" stroke-width="2"/>
<text class="p" x="90.5" y="1135.8" font-size="26.6" fill="#4d4d4d" text-anchor="end">0.8</text>
<line x1="100.7" x2="838" y1="1210.1" y2="1210.1" stroke="#ebebeb" stroke-width="2"/>
<text class="p" x="90.5" y="1220.9" font-size="26.6" fill="#4d4d4d" text-anchor="end">0.7</text>
<line x1="100.7" x2="838" y1="1295.1" y2="1295.1" stroke="#ebebeb" stroke-width="2"/>
<text class="p" x="90.5" y="1305.9" font-size="26.6" fill="#4d4d4d" text-anchor="end">0.6</text>
<line x1="100.7" x2="838" y1="1380.1" y2="1380.1" stroke="#ebebeb" stroke-width="2"/>
<text class="p" x="90.5" y="1390.9" font-size="26.6" fill="#4d4d4d" text-anchor="end">0.5</text>
<line x1="127.5" x2="127.5" y1="935.7" y2="1400.5" stroke="#ebebeb" stroke-width="2"/>
<text class="p" x="127.5" y="1430.6" font-size="26.6" fill="#4d4d4d" text-anchor="middle">0</text>
<line x1="409.8" x2="409.8" y1="935.7" y2="1400.5" stroke="#ebebeb" stroke-width="2"/>
<text class="p" x="409.8" y="1430.6" font-size="26.6" fill="#4d4d4d" text-anchor="middle">50</text>
<line x1="692.1" x2="692.1" y1="935.7" y2="1400.5" stroke="#ebebeb" stroke-width="2"/>
<text class="p" x="692.1" y="1430.6" font-size="26.6" fill="#4d4d4d" text-anchor="middle">100</text>
<rect x="110.9" y="947.8" width="198.7" height="159.2" fill="#fff"/>
<g fill="#ff0000"><circle cx="133.1" cy="1378.2" r="4.3"/><circle cx="138.8" cy="1375.8" r="4.3"/><circle cx="144.4" cy="1374.1" r="4.3"/><circle cx="150.1" cy="1371.7" r="4.3"/><circle cx="155.7" cy="1371.7" r="4.3"/><circle cx="161.4" cy="1369.8" r="4.3"/><circle cx="167.0" cy="1366.2" r="4.3"/><circle cx="172.7" cy="1366.2" r="4.3"/><circle cx="178.3" cy="1361.4" r="4.3"/><circle cx="184.0" cy="1359.8" r="4.3"/><circle cx="189.6" cy="1361.4" r="4.3"/><circle cx="195.3" cy="1362.6" r="4.3"/><circle cx="200.9" cy="1363.8" r="4.3"/><circle cx="206.5" cy="1369.8" r="4.3"/><circle cx="212.2" cy="1362.2" r="4.3"/><circle cx="217.8" cy="1358.3" r="4.3"/><circle cx="223.5" cy="1353.5" r="4.3"/><circle cx="229.1" cy="1347.8" r="4.3"/><circle cx="234.8" cy="1345.9" r="4.3"/><circle cx="240.4" cy="1335.8" r="4.3"/><circle cx="246.1" cy="1332.0" r="4.3"/><circle cx="251.7" cy="1339.9" r="4.3"/><circle cx="257.4" cy="1343.0" r="4.3"/><circle cx="263.0" cy="1360.2" r="4.3"/><circle cx="268.6" cy="1351.4" r="4.3"/><circle cx="274.3" cy="1353.1" r="4.3"/><circle cx="279.9" cy="1343.5" r="4.3"/><circle cx="285.6" cy="1341.1" r="4.3"/><circle cx="291.2" cy="1344.0" r="4.3"/><circle cx="296.9" cy="1337.5" r="4.3"/><circle cx="302.5" cy="1345.4" r="4.3"/><circle cx="308.2" cy="1332.7" r="4.3"/><circle cx="313.8" cy="1323.2" r="4.3"/><circle cx="319.5" cy="1331.1" r="4.3"/><circle cx="325.1" cy="1330.3" r="4.3"/><circle cx="330.8" cy="1333.9" r="4.3"/><circle cx="336.4" cy="1306.9" r="4.3"/><circle cx="342.0" cy="1305.9" r="4.3"/><circle cx="347.7" cy="1298.0" r="4.3"/><circle cx="353.3" cy="1304.7" r="4.3"/><circle cx="359.0" cy="1317.9" r="4.3"/><circle cx="364.6" cy="1311.9" r="4.3"/><circle cx="370.3" cy="1305.9" r="4.3"/><circle cx="375.9" cy="1308.3" r="4.3"/><circle cx="381.6" cy="1301.6" r="4.3"/><circle cx="387.2" cy="1303.5" r="4.3"/><circle cx="392.9" cy="1300.4" r="4.3"/><circle cx="398.5" cy="1306.9" r="4.3"/><circle cx="404.2" cy="1287.7" r="4.3"/><circle cx="409.8" cy="1266.9" r="4.3"/><circle cx="415.4" cy="1246.1" r="4.3"/><circle cx="421.1" cy="1268.6" r="4.3"/><circle cx="426.7" cy="1255.7" r="4.3"/><circle cx="432.4" cy="1253.8" r="4.3"/><circle cx="438.0" cy="1264.1" r="4.3"/><circle cx="443.7" cy="1265.0" r="4.3"/><circle cx="449.3" cy="1254.3" r="4.3"/><circle cx="455.0" cy="1263.8" r="4.3"/><circle cx="460.6" cy="1258.6" r="4.3"/><circle cx="466.3" cy="1265.3" r="4.3"/><circle cx="471.9" cy="1252.6" r="4.3"/><circle cx="477.6" cy="1235.8" r="4.3"/><circle cx="483.2" cy="1241.8" r="4.3"/><circle cx="488.8" cy="1233.4" r="4.3"/><circle cx="494.5" cy="1204.0" r="4.3"/><circle cx="500.1" cy="1201.9" r="4.3"/><circle cx="505.8" cy="1199.2" r="4.3"/><circle cx="511.4" cy="1180.3" r="4.3"/><circle cx="517.1" cy="1168.1" r="4.3"/><circle cx="522.7" cy="1159.3" r="4.3"/><circle cx="528.4" cy="1136.5" r="4.3"/><circle cx="534.0" cy="1151.6" r="4.3"/><circle cx="539.7" cy="1145.4" r="4.3"/><circle cx="545.3" cy="1154.5" r="4.3"/><circle cx="551.0" cy="1156.9" r="4.3"/><circle cx="556.6" cy="1158.8" r="4.3"/><circle cx="562.2" cy="1129.8" r="4.3"/><circle cx="567.9" cy="1112.6" r="4.3"/><circle cx="573.5" cy="1131.3" r="4.3"/><circle cx="579.2" cy="1110.2" r="4.3"/><circle cx="584.8" cy="1112.6" r="4.3"/><circle cx="590.5" cy="1107.8" r="4.3"/><circle cx="596.1" cy="1077.9" r="4.3"/><circle cx="601.8" cy="1072.4" r="4.3"/><circle cx="607.4" cy="1082.7" r="4.3"/><circle cx="613.1" cy="1086.8" r="4.3"/><circle cx="618.7" cy="1097.8" r="4.3"/><circle cx="624.3" cy="1073.1" r="4.3"/><circle cx="630.0" cy="1052.1" r="4.3"/><circle cx="635.6" cy="1062.8" r="4.3"/><circle cx="641.3" cy="1067.9" r="4.3"/><circle cx="646.9" cy="1050.4" r="4.3"/><circle cx="652.6" cy="1035.6" r="4.3"/><circle cx="658.2" cy="1026.5" r="4.3"/><circle cx="663.9" cy="1012.1" r="4.3"/><circle cx="669.5" cy="1011.6" r="4.3"/><circle cx="675.2" cy="1003.0" r="4.3"/><circle cx="680.8" cy="1000.6" r="4.3"/><circle cx="686.5" cy="1003.7" r="4.3"/><circle cx="692.1" cy="1003.3" r="4.3"/><circle cx="697.7" cy="977.4" r="4.3"/><circle cx="703.4" cy="981.5" r="4.3"/><circle cx="709.0" cy="983.9" r="4.3"/><circle cx="714.7" cy="994.9" r="4.3"/><circle cx="720.3" cy="999.0" r="4.3"/><circle cx="726.0" cy="983.9" r="4.3"/><circle cx="731.6" cy="983.4" r="4.3"/><circle cx="737.3" cy="981.7" r="4.3"/><circle cx="742.9" cy="983.9" r="4.3"/><circle cx="748.6" cy="991.8" r="4.3"/><circle cx="754.2" cy="979.3" r="4.3"/><circle cx="759.9" cy="974.6" r="4.3"/><circle cx="765.5" cy="970.2" r="4.3"/><circle cx="771.1" cy="966.2" r="4.3"/><circle cx="776.8" cy="975.7" r="4.3"/><circle cx="782.4" cy="962.6" r="4.3"/><circle cx="788.1" cy="959.0" r="4.3"/><circle cx="793.7" cy="958.3" r="4.3"/><circle cx="799.4" cy="958.3" r="4.3"/><circle cx="805.0" cy="957.8" r="4.3"/></g>
<g fill="#008b00"><circle cx="133.1" cy="1372.2" r="4.3"/><circle cx="138.8" cy="1364.3" r="4.3"/><circle cx="144.4" cy="1359.8" r="4.3"/><circle cx="150.1" cy="1359.8" r="4.3"/><circle cx="155.7" cy="1355.9" r="4.3"/><circle cx="161.4" cy="1343.5" r="4.3"/><circle cx="167.0" cy="1338.7" r="4.3"/><circle cx="172.7" cy="1330.3" r="4.3"/><circle cx="178.3" cy="1334.6" r="4.3"/><circle cx="184.0" cy="1326.7" r="4.3"/><circle cx="189.6" cy="1339.2" r="4.3"/><circle cx="195.3" cy="1339.2" r="4.3"/><circle cx="200.9" cy="1318.4" r="4.3"/><circle cx="206.5" cy="1300.9" r="4.3"/><circle cx="212.2" cy="1292.5" r="4.3"/><circle cx="217.8" cy="1279.6" r="4.3"/><circle cx="223.5" cy="1266.2" r="4.3"/><circle cx="229.1" cy="1253.1" r="4.3"/><circle cx="234.8" cy="1244.7" r="4.3"/><circle cx="240.4" cy="1250.2" r="4.3"/><circle cx="246.1" cy="1232.5" r="4.3"/><circle cx="251.7" cy="1224.3" r="4.3"/><circle cx="257.4" cy="1215.7" r="4.3"/><circle cx="263.0" cy="1203.0" r="4.3"/><circle cx="268.6" cy="1194.0" r="4.3"/><circle cx="274.3" cy="1181.3" r="4.3"/><circle cx="279.9" cy="1172.9" r="4.3"/><circle cx="285.6" cy="1177.7" r="4.3"/><circle cx="291.2" cy="1160.9" r="4.3"/><circle cx="296.9" cy="1152.6" r="4.3"/><circle cx="302.5" cy="1152.6" r="4.3"/><circle cx="308.2" cy="1136.1" r="4.3"/><circle cx="313.8" cy="1136.1" r="4.3"/><circle cx="319.5" cy="1123.4" r="4.3"/><circle cx="325.1" cy="1097.5" r="4.3"/><circle cx="330.8" cy="1106.1" r="4.3"/><circle cx="336.4" cy="1097.5" r="4.3"/><circle cx="342.0" cy="1076.2" r="4.3"/><circle cx="347.7" cy="1076.2" r="4.3"/><circle cx="353.3" cy="1076.2" r="4.3"/><circle cx="359.0" cy="1071.5" r="4.3"/><circle cx="364.6" cy="1063.1" r="4.3"/><circle cx="370.3" cy="1063.6" r="4.3"/><circle cx="375.9" cy="1068.3" r="4.3"/><circle cx="381.6" cy="1058.8" r="4.3"/><circle cx="387.2" cy="1042.0" r="4.3"/><circle cx="392.9" cy="1042.5" r="4.3"/><circle cx="398.5" cy="1033.2" r="4.3"/><circle cx="404.2" cy="1020.5" r="4.3"/><circle cx="409.8" cy="1003.3" r="4.3"/><circle cx="415.4" cy="1012.1" r="4.3"/><circle cx="421.1" cy="998.5" r="4.3"/><circle cx="426.7" cy="1007.8" r="4.3"/><circle cx="432.4" cy="999.0" r="4.3"/><circle cx="438.0" cy="990.1" r="4.3"/><circle cx="443.7" cy="985.8" r="4.3"/><circle cx="449.3" cy="985.8" r="4.3"/><circle cx="455.0" cy="985.8" r="4.3"/><circle cx="460.6" cy="976.9" r="4.3"/><circle cx="466.3" cy="972.6" r="4.3"/><circle cx="471.9" cy="967.9" r="4.3"/><circle cx="477.6" cy="972.2" r="4.3"/><circle cx="483.2" cy="972.6" r="4.3"/><circle cx="488.8" cy="977.4" r="4.3"/><circle cx="494.5" cy="968.6" r="4.3"/><circle cx="500.1" cy="968.6" r="4.3"/><circle cx="505.8" cy="973.8" r="4.3"/><circle cx="511.4" cy="963.8" r="4.3"/><circle cx="517.1" cy="969.0" r="4.3"/><circle cx="522.7" cy="969.5" r="4.3"/><circle cx="528.4" cy="969.5" r="4.3"/><circle cx="534.0" cy="969.5" r="4.3"/><circle cx="539.7" cy="969.5" r="4.3"/><circle cx="545.3" cy="969.5" r="4.3"/><circle cx="551.0" cy="969.5" r="4.3"/><circle cx="556.6" cy="969.5" r="4.3"/><circle cx="562.2" cy="959.5" r="4.3"/><circle cx="567.9" cy="964.3" r="4.3"/><circle cx="573.5" cy="959.5" r="4.3"/><circle cx="579.2" cy="959.5" r="4.3"/><circle cx="584.8" cy="964.3" r="4.3"/><circle cx="590.5" cy="964.3" r="4.3"/><circle cx="596.1" cy="964.3" r="4.3"/><circle cx="601.8" cy="955.4" r="4.3"/><circle cx="607.4" cy="960.2" r="4.3"/><circle cx="613.1" cy="959.7" r="4.3"/><circle cx="618.7" cy="959.7" r="4.3"/><circle cx="624.3" cy="959.7" r="4.3"/><circle cx="630.0" cy="959.7" r="4.3"/><circle cx="635.6" cy="959.7" r="4.3"/><circle cx="641.3" cy="964.3" r="4.3"/><circle cx="646.9" cy="964.3" r="4.3"/><circle cx="652.6" cy="964.3" r="4.3"/><circle cx="658.2" cy="964.3" r="4.3"/><circle cx="663.9" cy="960.2" r="4.3"/><circle cx="669.5" cy="955.9" r="4.3"/><circle cx="675.2" cy="955.9" r="4.3"/><circle cx="680.8" cy="955.9" r="4.3"/><circle cx="686.5" cy="955.9" r="4.3"/><circle cx="692.1" cy="955.9" r="4.3"/><circle cx="697.7" cy="955.9" r="4.3"/><circle cx="703.4" cy="955.9" r="4.3"/><circle cx="709.0" cy="955.9" r="4.3"/><circle cx="714.7" cy="955.9" r="4.3"/><circle cx="720.3" cy="955.9" r="4.3"/><circle cx="726.0" cy="955.9" r="4.3"/><circle cx="731.6" cy="955.9" r="4.3"/><circle cx="737.3" cy="955.9" r="4.3"/><circle cx="742.9" cy="955.9" r="4.3"/><circle cx="748.6" cy="955.9" r="4.3"/><circle cx="754.2" cy="955.9" r="4.3"/><circle cx="759.9" cy="955.9" r="4.3"/><circle cx="765.5" cy="955.9" r="4.3"/><circle cx="771.1" cy="955.9" r="4.3"/><circle cx="776.8" cy="955.9" r="4.3"/><circle cx="782.4" cy="955.9" r="4.3"/><circle cx="788.1" cy="955.9" r="4.3"/><circle cx="793.7" cy="955.9" r="4.3"/><circle cx="799.4" cy="955.9" r="4.3"/><circle cx="805.0" cy="955.9" r="4.3"/></g>
<g fill="#00bfff"><circle cx="133.1" cy="1378.2" r="4.3"/><circle cx="138.8" cy="1378.2" r="4.3"/><circle cx="144.4" cy="1378.2" r="4.3"/><circle cx="150.1" cy="1378.2" r="4.3"/><circle cx="155.7" cy="1378.2" r="4.3"/><circle cx="161.4" cy="1378.2" r="4.3"/><circle cx="167.0" cy="1378.2" r="4.3"/><circle cx="172.7" cy="1378.2" r="4.3"/><circle cx="178.3" cy="1378.2" r="4.3"/><circle cx="184.0" cy="1378.2" r="4.3"/><circle cx="189.6" cy="1378.2" r="4.3"/><circle cx="195.3" cy="1378.2" r="4.3"/><circle cx="200.9" cy="1378.2" r="4.3"/><circle cx="206.5" cy="1378.2" r="4.3"/><circle cx="212.2" cy="1378.2" r="4.3"/><circle cx="217.8" cy="1378.2" r="4.3"/><circle cx="223.5" cy="1378.2" r="4.3"/><circle cx="229.1" cy="1378.2" r="4.3"/><circle cx="234.8" cy="1378.2" r="4.3"/><circle cx="240.4" cy="1378.2" r="4.3"/><circle cx="246.1" cy="1378.2" r="4.3"/><circle cx="251.7" cy="1378.2" r="4.3"/><circle cx="257.4" cy="1378.2" r="4.3"/><circle cx="263.0" cy="1378.2" r="4.3"/><circle cx="268.6" cy="1378.2" r="4.3"/><circle cx="274.3" cy="1378.2" r="4.3"/><circle cx="279.9" cy="1378.2" r="4.3"/><circle cx="285.6" cy="1378.2" r="4.3"/><circle cx="291.2" cy="1378.2" r="4.3"/><circle cx="296.9" cy="1378.2" r="4.3"/><circle cx="302.5" cy="1378.2" r="4.3"/><circle cx="308.2" cy="1378.2" r="4.3"/><circle cx="313.8" cy="1378.2" r="4.3"/><circle cx="319.5" cy="1378.2" r="4.3"/><circle cx="325.1" cy="1378.2" r="4.3"/><circle cx="330.8" cy="1378.2" r="4.3"/><circle cx="336.4" cy="1378.2" r="4.3"/><circle cx="342.0" cy="1378.2" r="4.3"/><circle cx="347.7" cy="1378.2" r="4.3"/><circle cx="353.3" cy="1378.2" r="4.3"/><circle cx="359.0" cy="1378.2" r="4.3"/><circle cx="364.6" cy="1378.2" r="4.3"/><circle cx="370.3" cy="1378.2" r="4.3"/><circle cx="375.9" cy="1378.2" r="4.3"/><circle cx="381.6" cy="1378.2" r="4.3"/><circle cx="387.2" cy="1378.2" r="4.3"/><circle cx="392.9" cy="1378.2" r="4.3"/><circle cx="398.5" cy="1378.2" r="4.3"/><circle cx="404.2" cy="1378.2" r="4.3"/><circle cx="409.8" cy="1378.2" r="4.3"/><circle cx="415.4" cy="1378.2" r="4.3"/><circle cx="421.1" cy="1378.2" r="4.3"/><circle cx="426.7" cy="1378.2" r="4.3"/><circle cx="432.4" cy="1378.2" r="4.3"/><circle cx="438.0" cy="1378.2" r="4.3"/><circle cx="443.7" cy="1378.2" r="4.3"/><circle cx="449.3" cy="1378.2" r="4.3"/><circle cx="455.0" cy="1378.2" r="4.3"/><circle cx="460.6" cy="1378.2" r="4.3"/><circle cx="466.3" cy="1378.2" r="4.3"/><circle cx="471.9" cy="1378.2" r="4.3"/><circle cx="477.6" cy="1378.2" r="4.3"/><circle cx="483.2" cy="1378.2" r="4.3"/><circle cx="488.8" cy="1378.2" r="4.3"/><circle cx="494.5" cy="1378.2" r="4.3"/><circle cx="500.1" cy="1378.2" r="4.3"/><circle cx="505.8" cy="1378.2" r="4.3"/><circle cx="511.4" cy="1378.2" r="4.3"/><circle cx="517.1" cy="1378.2" r="4.3"/><circle cx="522.7" cy="1378.2" r="4.3"/><circle cx="528.4" cy="1378.2" r="4.3"/><circle cx="534.0" cy="1378.2" r="4.3"/><circle cx="539.7" cy="1378.2" r="4.3"/><circle cx="545.3" cy="1378.2" r="4.3"/><circle cx="551.0" cy="1378.2" r="4.3"/><circle cx="556.6" cy="1378.2" r="4.3"/><circle cx="562.2" cy="1378.2" r="4.3"/><circle cx="567.9" cy="1378.2" r="4.3"/><circle cx="573.5" cy="1378.2" r="4.3"/><circle cx="579.2" cy="1378.2" r="4.3"/><circle cx="584.8" cy="1378.2" r="4.3"/><circle cx="590.5" cy="1378.2" r="4.3"/><circle cx="596.1" cy="1378.2" r="4.3"/><circle cx="601.8" cy="1378.2" r="4.3"/><circle cx="607.4" cy="1378.2" r="4.3"/><circle cx="613.1" cy="1378.2" r="4.3"/><circle cx="618.7" cy="1378.2" r="4.3"/><circle cx="624.3" cy="1378.2" r="4.3"/><circle cx="630.0" cy="1378.2" r="4.3"/><circle cx="635.6" cy="1378.2" r="4.3"/><circle cx="641.3" cy="1378.2" r="4.3"/><circle cx="646.9" cy="1378.2" r="4.3"/><circle cx="652.6" cy="1378.2" r="4.3"/><circle cx="658.2" cy="1378.2" r="4.3"/><circle cx="663.9" cy="1378.2" r="4.3"/><circle cx="669.5" cy="1378.2" r="4.3"/><circle cx="675.2" cy="1378.2" r="4.3"/><circle cx="680.8" cy="1378.2" r="4.3"/><circle cx="686.5" cy="1378.2" r="4.3"/><circle cx="692.1" cy="1378.2" r="4.3"/><circle cx="697.7" cy="1378.2" r="4.3"/><circle cx="703.4" cy="1378.2" r="4.3"/><circle cx="709.0" cy="1378.2" r="4.3"/><circle cx="714.7" cy="1378.2" r="4.3"/><circle cx="720.3" cy="1378.2" r="4.3"/><circle cx="726.0" cy="1378.2" r="4.3"/><circle cx="731.6" cy="1378.2" r="4.3"/><circle cx="737.3" cy="1378.2" r="4.3"/><circle cx="742.9" cy="1378.2" r="4.3"/><circle cx="748.6" cy="1378.2" r="4.3"/><circle cx="754.2" cy="1378.2" r="4.3"/><circle cx="759.9" cy="1378.2" r="4.3"/><circle cx="765.5" cy="1378.2" r="4.3"/><circle cx="771.1" cy="1378.2" r="4.3"/><circle cx="776.8" cy="1378.2" r="4.3"/><circle cx="782.4" cy="1378.2" r="4.3"/><circle cx="788.1" cy="1378.2" r="4.3"/><circle cx="793.7" cy="1378.2" r="4.3"/><circle cx="799.4" cy="1378.2" r="4.3"/><circle cx="805.0" cy="1378.2" r="4.3"/></g>
<g fill="#000080"><circle cx="133.1" cy="1380.1" r="4.3"/><circle cx="138.8" cy="1380.1" r="4.3"/><circle cx="144.4" cy="1380.1" r="4.3"/><circle cx="150.1" cy="1380.1" r="4.3"/><circle cx="155.7" cy="1380.1" r="4.3"/><circle cx="161.4" cy="1380.1" r="4.3"/><circle cx="167.0" cy="1380.1" r="4.3"/><circle cx="172.7" cy="1380.1" r="4.3"/><circle cx="178.3" cy="1380.1" r="4.3"/><circle cx="184.0" cy="1380.1" r="4.3"/><circle cx="189.6" cy="1380.1" r="4.3"/><circle cx="195.3" cy="1380.1" r="4.3"/><circle cx="200.9" cy="1380.1" r="4.3"/><circle cx="206.5" cy="1380.1" r="4.3"/><circle cx="212.2" cy="1380.1" r="4.3"/><circle cx="217.8" cy="1380.1" r="4.3"/><circle cx="223.5" cy="1380.1" r="4.3"/><circle cx="229.1" cy="1380.1" r="4.3"/><circle cx="234.8" cy="1380.1" r="4.3"/><circle cx="240.4" cy="1380.1" r="4.3"/><circle cx="246.1" cy="1380.1" r="4.3"/><circle cx="251.7" cy="1380.1" r="4.3"/><circle cx="257.4" cy="1380.1" r="4.3"/><circle cx="263.0" cy="1380.1" r="4.3"/><circle cx="268.6" cy="1380.1" r="4.3"/><circle cx="274.3" cy="1380.1" r="4.3"/><circle cx="279.9" cy="1380.1" r="4.3"/><circle cx="285.6" cy="1380.1" r="4.3"/><circle cx="291.2" cy="1380.1" r="4.3"/><circle cx="296.9" cy="1380.1" r="4.3"/><circle cx="302.5" cy="1380.1" r="4.3"/><circle cx="308.2" cy="1380.1" r="4.3"/><circle cx="313.8" cy="1380.1" r="4.3"/><circle cx="319.5" cy="1380.1" r="4.3"/><circle cx="325.1" cy="1380.1" r="4.3"/><circle cx="330.8" cy="1380.1" r="4.3"/><circle cx="336.4" cy="1380.1" r="4.3"/><circle cx="342.0" cy="1380.1" r="4.3"/><circle cx="347.7" cy="1380.1" r="4.3"/><circle cx="353.3" cy="1380.1" r="4.3"/><circle cx="359.0" cy="1380.1" r="4.3"/><circle cx="364.6" cy="1380.1" r="4.3"/><circle cx="370.3" cy="1380.1" r="4.3"/><circle cx="375.9" cy="1380.1" r="4.3"/><circle cx="381.6" cy="1380.1" r="4.3"/><circle cx="387.2" cy="1380.1" r="4.3"/><circle cx="392.9" cy="1380.1" r="4.3"/><circle cx="398.5" cy="1380.1" r="4.3"/><circle cx="404.2" cy="1380.1" r="4.3"/><circle cx="409.8" cy="1380.1" r="4.3"/><circle cx="415.4" cy="1380.1" r="4.3"/><circle cx="421.1" cy="1380.1" r="4.3"/><circle cx="426.7" cy="1380.1" r="4.3"/><circle cx="432.4" cy="1380.1" r="4.3"/><circle cx="438.0" cy="1380.1" r="4.3"/><circle cx="443.7" cy="1380.1" r="4.3"/><circle cx="449.3" cy="1380.1" r="4.3"/><circle cx="455.0" cy="1380.1" r="4.3"/><circle cx="460.6" cy="1380.1" r="4.3"/><circle cx="466.3" cy="1380.1" r="4.3"/><circle cx="471.9" cy="1380.1" r="4.3"/><circle cx="477.6" cy="1380.1" r="4.3"/><circle cx="483.2" cy="1380.1" r="4.3"/><circle cx="488.8" cy="1380.1" r="4.3"/><circle cx="494.5" cy="1380.1" r="4.3"/><circle cx="500.1" cy="1380.1" r="4.3"/><circle cx="505.8" cy="1380.1" r="4.3"/><circle cx="511.4" cy="1380.1" r="4.3"/><circle cx="517.1" cy="1380.1" r="4.3"/><circle cx="522.7" cy="1380.1" r="4.3"/><circle cx="528.4" cy="1378.2" r="4.3"/><circle cx="534.0" cy="1378.2" r="4.3"/><circle cx="539.7" cy="1380.1" r="4.3"/><circle cx="545.3" cy="1380.1" r="4.3"/><circle cx="551.0" cy="1380.1" r="4.3"/><circle cx="556.6" cy="1380.1" r="4.3"/><circle cx="562.2" cy="1380.1" r="4.3"/><circle cx="567.9" cy="1380.1" r="4.3"/><circle cx="573.5" cy="1380.1" r="4.3"/><circle cx="579.2" cy="1380.1" r="4.3"/><circle cx="584.8" cy="1380.1" r="4.3"/><circle cx="590.5" cy="1380.1" r="4.3"/><circle cx="596.1" cy="1380.1" r="4.3"/><circle cx="601.8" cy="1380.1" r="4.3"/><circle cx="607.4" cy="1380.1" r="4.3"/><circle cx="613.1" cy="1380.1" r="4.3"/><circle cx="618.7" cy="1380.1" r="4.3"/><circle cx="624.3" cy="1380.1" r="4.3"/><circle cx="630.0" cy="1380.1" r="4.3"/><circle cx="635.6" cy="1380.1" r="4.3"/><circle cx="641.3" cy="1380.1" r="4.3"/><circle cx="646.9" cy="1380.1" r="4.3"/><circle cx="652.6" cy="1380.1" r="4.3"/><circle cx="658.2" cy="1380.1" r="4.3"/><circle cx="663.9" cy="1380.1" r="4.3"/><circle cx="669.5" cy="1380.1" r="4.3"/><circle cx="675.2" cy="1380.1" r="4.3"/><circle cx="680.8" cy="1380.1" r="4.3"/><circle cx="686.5" cy="1380.1" r="4.3"/><circle cx="692.1" cy="1380.1" r="4.3"/><circle cx="697.7" cy="1380.1" r="4.3"/><circle cx="703.4" cy="1380.1" r="4.3"/><circle cx="709.0" cy="1380.1" r="4.3"/><circle cx="714.7" cy="1380.1" r="4.3"/><circle cx="720.3" cy="1380.1" r="4.3"/><circle cx="726.0" cy="1380.1" r="4.3"/><circle cx="731.6" cy="1380.1" r="4.3"/><circle cx="737.3" cy="1380.1" r="4.3"/><circle cx="742.9" cy="1380.1" r="4.3"/><circle cx="748.6" cy="1380.1" r="4.3"/><circle cx="754.2" cy="1380.1" r="4.3"/><circle cx="759.9" cy="1380.1" r="4.3"/><circle cx="765.5" cy="1380.1" r="4.3"/><circle cx="771.1" cy="1380.1" r="4.3"/><circle cx="776.8" cy="1380.1" r="4.3"/><circle cx="782.4" cy="1380.1" r="4.3"/><circle cx="788.1" cy="1380.1" r="4.3"/><circle cx="793.7" cy="1380.1" r="4.3"/><circle cx="799.4" cy="1380.1" r="4.3"/><circle cx="805.0" cy="1380.1" r="4.3"/></g>
<rect x="100.7" y="935.7" width="737.3" height="464.79999999999995" fill="none" stroke="#333" stroke-width="2.4"/>
<text class="t" x="308.4" y="913.1" font-size="29.8" text-anchor="start" >2 CD14+ Monocytes</text>
<text class="p" font-size="29.8" fill="#1a1a1a" text-anchor="middle" transform="translate(43.2,1169.1) rotate(-90)">Area under curve</text>
<text class="p" x="469.4" y="1465.2" font-size="30.4" fill="#1a1a1a" text-anchor="middle"># of DE genes</text>
<circle cx="137.4" cy="984.8" r="4.3" fill="#008b00"/>
<text class="p" x="163.6" y="995.4" font-size="30.5" font-weight="bold" fill="#000">GapClust</text>
<circle cx="137.4" cy="1017" r="4.3" fill="#ff0000"/>
<text class="p" x="163.6" y="1027.6" font-size="30.5" font-weight="bold" fill="#000">RaceID</text>
<circle cx="137.4" cy="1049.2" r="4.3" fill="#00bfff"/>
<text class="p" x="163.6" y="1059.8" font-size="30.5" font-weight="bold" fill="#000">GiniClust</text>
<circle cx="137.4" cy="1081.6" r="4.3" fill="#000080"/>
<text class="p" x="163.6" y="1092.2" font-size="30.5" font-weight="bold" fill="#000">FiRE</text>
</g>
<g>
<rect x="100.5" y="1551.7" width="737.5" height="465.89999999999986" fill="#fff"/>
<line x1="100.5" x2="838" y1="1615.1" y2="1615.1" stroke="#f3f3f3" stroke-width="1.1"/>
<line x1="100.5" x2="838" y1="1699.8" y2="1699.8" stroke="#f3f3f3" stroke-width="1.1"/>
<line x1="100.5" x2="838" y1="1784.5" y2="1784.5" stroke="#f3f3f3" stroke-width="1.1"/>
<line x1="100.5" x2="838" y1="1869.2" y2="1869.2" stroke="#f3f3f3" stroke-width="1.1"/>
<line x1="100.5" x2="838" y1="1954.0" y2="1954.0" stroke="#f3f3f3" stroke-width="1.1"/>
<line x1="256.9" x2="256.9" y1="1551.7" y2="2017.6" stroke="#f3f3f3" stroke-width="1.1"/>
<line x1="515.0" x2="515.0" y1="1551.7" y2="2017.6" stroke="#f3f3f3" stroke-width="1.1"/>
<line x1="773.2" x2="773.2" y1="1551.7" y2="2017.6" stroke="#f3f3f3" stroke-width="1.1"/>
<line x1="100.5" x2="838" y1="1572.8" y2="1572.8" stroke="#ebebeb" stroke-width="2"/>
<text class="p" x="90.3" y="1582.8" font-size="26.6" fill="#4d4d4d" text-anchor="end">1.0</text>
<line x1="100.5" x2="838" y1="1657.5" y2="1657.5" stroke="#ebebeb" stroke-width="2"/>
<text class="p" x="90.3" y="1667.5" font-size="26.6" fill="#4d4d4d" text-anchor="end">0.9</text>
<line x1="100.5" x2="838" y1="1742.2" y2="1742.2" stroke="#ebebeb" stroke-width="2"/>
<text class="p" x="90.3" y="1752.2" font-size="26.6" fill="#4d4d4d" text-anchor="end">0.8</text>
<line x1="100.5" x2="838" y1="1826.9" y2="1826.9" stroke="#ebebeb" stroke-width="2"/>
<text class="p" x="90.3" y="1836.9" font-size="26.6" fill="#4d4d4d" text-anchor="end">0.7</text>
<line x1="100.5" x2="838" y1="1911.6" y2="1911.6" stroke="#ebebeb" stroke-width="2"/>
<text class="p" x="90.3" y="1921.6" font-size="26.6" fill="#4d4d4d" text-anchor="end">0.6</text>
<line x1="100.5" x2="838" y1="1996.3" y2="1996.3" stroke="#ebebeb" stroke-width="2"/>
<text class="p" x="90.3" y="2006.3" font-size="26.6" fill="#4d4d4d" text-anchor="end">0.5</text>
<line x1="127.8" x2="127.8" y1="1551.7" y2="2017.6" stroke="#ebebeb" stroke-width="2"/>
<text class="p" x="127.8" y="2047.7" font-size="26.6" fill="#4d4d4d" text-anchor="middle">0</text>
<line x1="386.0" x2="386.0" y1="1551.7" y2="2017.6" stroke="#ebebeb" stroke-width="2"/>
<text class="p" x="386.0" y="2047.7" font-size="26.6" fill="#4d4d4d" text-anchor="middle">50</text>
<line x1="644.1" x2="644.1" y1="1551.7" y2="2017.6" stroke="#ebebeb" stroke-width="2"/>
<text class="p" x="644.1" y="2047.7" font-size="26.6" fill="#4d4d4d" text-anchor="middle">100</text>
<g fill="#ff0000"><circle cx="133.0" cy="1994.6" r="4.3"/><circle cx="138.1" cy="1991.0" r="4.3"/><circle cx="143.3" cy="1986.9" r="4.3"/><circle cx="148.5" cy="1984.6" r="4.3"/><circle cx="153.6" cy="1972.6" r="4.3"/><circle cx="158.8" cy="1974.7" r="4.3"/><circle cx="163.9" cy="1963.0" r="4.3"/><circle cx="169.1" cy="1942.7" r="4.3"/><circle cx="174.3" cy="1956.3" r="4.3"/><circle cx="179.4" cy="1949.1" r="4.3"/><circle cx="184.6" cy="1958.0" r="4.3"/><circle cx="189.8" cy="1949.9" r="4.3"/><circle cx="194.9" cy="1939.1" r="4.3"/><circle cx="200.1" cy="1931.2" r="4.3"/><circle cx="205.2" cy="1914.0" r="4.3"/><circle cx="210.4" cy="1905.4" r="4.3"/><circle cx="215.6" cy="1892.4" r="4.3"/><circle cx="220.7" cy="1888.6" r="4.3"/><circle cx="225.9" cy="1889.8" r="4.3"/><circle cx="231.1" cy="1899.4" r="4.3"/><circle cx="236.2" cy="1897.0" r="4.3"/><circle cx="241.4" cy="1903.7" r="4.3"/><circle cx="246.5" cy="1897.7" r="4.3"/><circle cx="251.7" cy="1875.4" r="4.3"/><circle cx="256.9" cy="1847.9" r="4.3"/><circle cx="262.0" cy="1830.2" r="4.3"/><circle cx="267.2" cy="1837.2" r="4.3"/><circle cx="272.4" cy="1826.6" r="4.3"/><circle cx="277.5" cy="1822.3" r="4.3"/><circle cx="282.7" cy="1810.4" r="4.3"/><circle cx="287.9" cy="1792.9" r="4.3"/><circle cx="293.0" cy="1780.5" r="4.3"/><circle cx="298.2" cy="1778.8" r="4.3"/><circle cx="303.3" cy="1758.2" r="4.3"/><circle cx="308.5" cy="1750.6" r="4.3"/><circle cx="313.7" cy="1755.3" r="4.3"/><circle cx="318.8" cy="1770.4" r="4.3"/><circle cx="324.0" cy="1744.6" r="4.3"/><circle cx="329.2" cy="1744.6" r="4.3"/><circle cx="334.3" cy="1719.4" r="4.3"/><circle cx="339.5" cy="1731.4" r="4.3"/><circle cx="344.6" cy="1732.1" r="4.3"/><circle cx="349.8" cy="1726.1" r="4.3"/><circle cx="355.0" cy="1727.3" r="4.3"/><circle cx="360.1" cy="1713.9" r="4.3"/><circle cx="365.3" cy="1707.5" r="4.3"/><circle cx="370.5" cy="1702.2" r="4.3"/><circle cx="375.6" cy="1697.9" r="4.3"/><circle cx="380.8" cy="1671.6" r="4.3"/><circle cx="386.0" cy="1652.5" r="4.3"/><circle cx="391.1" cy="1639.3" r="4.3"/><circle cx="396.3" cy="1638.1" r="4.3"/><circle cx="401.4" cy="1651.3" r="4.3"/><circle cx="406.6" cy="1646.5" r="4.3"/><circle cx="411.8" cy="1646.5" r="4.3"/><circle cx="416.9" cy="1651.3" r="4.3"/><circle cx="422.1" cy="1639.3" r="4.3"/><circle cx="427.3" cy="1629.7" r="4.3"/><circle cx="432.4" cy="1635.7" r="4.3"/><circle cx="437.6" cy="1630.9" r="4.3"/><circle cx="442.7" cy="1643.4" r="4.3"/><circle cx="447.9" cy="1635.7" r="4.3"/><circle cx="453.1" cy="1622.1" r="4.3"/><circle cx="458.2" cy="1613.0" r="4.3"/><circle cx="463.4" cy="1617.8" r="4.3"/><circle cx="468.6" cy="1622.5" r="4.3"/><circle cx="473.7" cy="1627.3" r="4.3"/><circle cx="478.9" cy="1616.1" r="4.3"/><circle cx="484.0" cy="1623.3" r="4.3"/><circle cx="489.2" cy="1602.7" r="4.3"/><circle cx="494.4" cy="1604.6" r="4.3"/><circle cx="499.5" cy="1600.3" r="4.3"/><circle cx="504.7" cy="1591.4" r="4.3"/><circle cx="509.9" cy="1587.9" r="4.3"/><circle cx="515.0" cy="1587.1" r="4.3"/><circle cx="520.2" cy="1587.1" r="4.3"/><circle cx="525.4" cy="1596.2" r="4.3"/><circle cx="530.5" cy="1591.4" r="4.3"/><circle cx="535.7" cy="1587.9" r="4.3"/><circle cx="540.8" cy="1592.2" r="4.3"/><circle cx="546.0" cy="1584.7" r="4.3"/><circle cx="551.2" cy="1584.3" r="4.3"/><circle cx="556.3" cy="1587.9" r="4.3"/><circle cx="561.5" cy="1588.6" r="4.3"/><circle cx="566.7" cy="1584.3" r="4.3"/><circle cx="571.8" cy="1576.4" r="4.3"/><circle cx="577.0" cy="1575.9" r="4.3"/><circle cx="582.1" cy="1575.9" r="4.3"/><circle cx="587.3" cy="1580.2" r="4.3"/><circle cx="592.5" cy="1575.4" r="4.3"/><circle cx="597.6" cy="1575.4" r="4.3"/><circle cx="602.8" cy="1575.4" r="4.3"/><circle cx="608.0" cy="1575.4" r="4.3"/><circle cx="613.1" cy="1575.4" r="4.3"/><circle cx="618.3" cy="1575.4" r="4.3"/><circle cx="623.4" cy="1575.4" r="4.3"/><circle cx="628.6" cy="1575.4" r="4.3"/><circle cx="633.8" cy="1575.4" r="4.3"/><circle cx="638.9" cy="1575.4" r="4.3"/><circle cx="644.1" cy="1575.4" r="4.3"/><circle cx="649.3" cy="1575.4" r="4.3"/><circle cx="654.4" cy="1575.4" r="4.3"/><circle cx="659.6" cy="1575.4" r="4.3"/><circle cx="664.8" cy="1575.4" r="4.3"/><circle cx="669.9" cy="1575.4" r="4.3"/><circle cx="675.1" cy="1575.4" r="4.3"/><circle cx="680.2" cy="1575.4" r="4.3"/><circle cx="685.4" cy="1575.4" r="4.3"/><circle cx="690.6" cy="1578.3" r="4.3"/><circle cx="695.7" cy="1575.4" r="4.3"/><circle cx="700.9" cy="1575.4" r="4.3"/><circle cx="706.1" cy="1575.4" r="4.3"/><circle cx="711.2" cy="1575.4" r="4.3"/><circle cx="716.4" cy="1575.4" r="4.3"/><circle cx="721.5" cy="1575.4" r="4.3"/><circle cx="726.7" cy="1575.4" r="4.3"/><circle cx="731.9" cy="1575.4" r="4.3"/><circle cx="737.0" cy="1575.4" r="4.3"/><circle cx="742.2" cy="1575.4" r="4.3"/><circle cx="747.4" cy="1575.4" r="4.3"/><circle cx="752.5" cy="1575.4" r="4.3"/><circle cx="757.7" cy="1575.4" r="4.3"/><circle cx="762.8" cy="1575.4" r="4.3"/><circle cx="768.0" cy="1575.4" r="4.3"/><circle cx="773.2" cy="1575.4" r="4.3"/><circle cx="778.3" cy="1575.4" r="4.3"/><circle cx="783.5" cy="1575.4" r="4.3"/><circle cx="788.7" cy="1575.4" r="4.3"/><circle cx="793.8" cy="1575.4" r="4.3"/><circle cx="799.0" cy="1575.4" r="4.3"/><circle cx="804.2" cy="1575.4" r="4.3"/></g>
<g fill="#008b00"><circle cx="133.0" cy="1982.6" r="4.3"/><circle cx="138.1" cy="1961.6" r="4.3"/><circle cx="143.3" cy="1944.8" r="4.3"/><circle cx="148.5" cy="1925.2" r="4.3"/><circle cx="153.6" cy="1912.5" r="4.3"/><circle cx="158.8" cy="1904.9" r="4.3"/><circle cx="163.9" cy="1894.1" r="4.3"/><circle cx="169.1" cy="1860.1" r="4.3"/><circle cx="174.3" cy="1873.1" r="4.3"/><circle cx="179.4" cy="1875.7" r="4.3"/><circle cx="184.6" cy="1849.4" r="4.3"/><circle cx="189.8" cy="1859.4" r="4.3"/><circle cx="194.9" cy="1836.7" r="4.3"/><circle cx="200.1" cy="1832.4" r="4.3"/><circle cx="205.2" cy="1819.9" r="4.3"/><circle cx="210.4" cy="1816.8" r="4.3"/><circle cx="215.6" cy="1794.3" r="4.3"/><circle cx="220.7" cy="1781.7" r="4.3"/><circle cx="225.9" cy="1772.6" r="4.3"/><circle cx="231.1" cy="1756.5" r="4.3"/><circle cx="236.2" cy="1762.0" r="4.3"/><circle cx="241.4" cy="1747.0" r="4.3"/><circle cx="246.5" cy="1715.4" r="4.3"/><circle cx="251.7" cy="1705.8" r="4.3"/><circle cx="256.9" cy="1693.1" r="4.3"/><circle cx="262.0" cy="1679.3" r="4.3"/><circle cx="267.2" cy="1677.6" r="4.3"/><circle cx="272.4" cy="1669.7" r="4.3"/><circle cx="277.5" cy="1678.1" r="4.3"/><circle cx="282.7" cy="1665.6" r="4.3"/><circle cx="287.9" cy="1657.2" r="4.3"/><circle cx="293.0" cy="1648.1" r="4.3"/><circle cx="298.2" cy="1643.6" r="4.3"/><circle cx="303.3" cy="1647.7" r="4.3"/><circle cx="308.5" cy="1652.5" r="4.3"/><circle cx="313.7" cy="1652.5" r="4.3"/><circle cx="318.8" cy="1629.7" r="4.3"/><circle cx="324.0" cy="1608.2" r="4.3"/><circle cx="329.2" cy="1590.2" r="4.3"/><circle cx="334.3" cy="1594.6" r="4.3"/><circle cx="339.5" cy="1593.8" r="4.3"/><circle cx="344.6" cy="1599.1" r="4.3"/><circle cx="349.8" cy="1594.6" r="4.3"/><circle cx="355.0" cy="1593.8" r="4.3"/><circle cx="360.1" cy="1585.0" r="4.3"/><circle cx="365.3" cy="1584.7" r="4.3"/><circle cx="370.5" cy="1585.0" r="4.3"/><circle cx="375.6" cy="1589.5" r="4.3"/><circle cx="380.8" cy="1594.3" r="4.3"/><circle cx="386.0" cy="1589.0" r="4.3"/><circle cx="391.1" cy="1585.0" r="4.3"/><circle cx="396.3" cy="1585.0" r="4.3"/><circle cx="401.4" cy="1589.5" r="4.3"/><circle cx="406.6" cy="1589.5" r="4.3"/><circle cx="411.8" cy="1594.3" r="4.3"/><circle cx="416.9" cy="1590.2" r="4.3"/><circle cx="422.1" cy="1589.5" r="4.3"/><circle cx="427.3" cy="1585.0" r="4.3"/><circle cx="432.4" cy="1584.7" r="4.3"/><circle cx="437.6" cy="1585.0" r="4.3"/><circle cx="442.7" cy="1594.3" r="4.3"/><circle cx="447.9" cy="1589.5" r="4.3"/><circle cx="453.1" cy="1585.0" r="4.3"/><circle cx="458.2" cy="1585.0" r="4.3"/><circle cx="463.4" cy="1576.6" r="4.3"/><circle cx="468.6" cy="1576.4" r="4.3"/><circle cx="473.7" cy="1576.4" r="4.3"/><circle cx="478.9" cy="1576.4" r="4.3"/><circle cx="484.0" cy="1576.6" r="4.3"/><circle cx="489.2" cy="1576.6" r="4.3"/><circle cx="494.4" cy="1571.8" r="4.3"/><circle cx="499.5" cy="1571.8" r="4.3"/><circle cx="504.7" cy="1571.8" r="4.3"/><circle cx="509.9" cy="1571.8" r="4.3"/><circle cx="515.0" cy="1571.8" r="4.3"/><circle cx="520.2" cy="1571.8" r="4.3"/><circle cx="525.4" cy="1571.8" r="4.3"/><circle cx="530.5" cy="1571.8" r="4.3"/><circle cx="535.7" cy="1571.8" r="4.3"/><circle cx="540.8" cy="1571.8" r="4.3"/><circle cx="546.0" cy="1571.8" r="4.3"/><circle cx="551.2" cy="1571.8" r="4.3"/><circle cx="556.3" cy="1571.8" r="4.3"/><circle cx="561.5" cy="1571.8" r="4.3"/><circle cx="566.7" cy="1571.8" r="4.3"/><circle cx="571.8" cy="1571.8" r="4.3"/><circle cx="577.0" cy="1571.8" r="4.3"/><circle cx="582.1" cy="1571.8" r="4.3"/><circle cx="587.3" cy="1571.8" r="4.3"/><circle cx="592.5" cy="1571.8" r="4.3"/><circle cx="597.6" cy="1571.8" r="4.3"/><circle cx="602.8" cy="1571.8" r="4.3"/><circle cx="608.0" cy="1571.8" r="4.3"/><circle cx="613.1" cy="1571.8" r="4.3"/><circle cx="618.3" cy="1571.8" r="4.3"/><circle cx="623.4" cy="1571.8" r="4.3"/><circle cx="628.6" cy="1571.8" r="4.3"/><circle cx="633.8" cy="1571.8" r="4.3"/><circle cx="638.9" cy="1571.8" r="4.3"/><circle cx="644.1" cy="1571.8" r="4.3"/><circle cx="649.3" cy="1571.8" r="4.3"/><circle cx="654.4" cy="1571.8" r="4.3"/><circle cx="659.6" cy="1571.8" r="4.3"/><circle cx="664.8" cy="1571.8" r="4.3"/><circle cx="669.9" cy="1571.8" r="4.3"/><circle cx="675.1" cy="1571.8" r="4.3"/><circle cx="680.2" cy="1571.8" r="4.3"/><circle cx="685.4" cy="1571.8" r="4.3"/><circle cx="690.6" cy="1571.8" r="4.3"/><circle cx="695.7" cy="1571.8" r="4.3"/><circle cx="700.9" cy="1571.8" r="4.3"/><circle cx="706.1" cy="1571.8" r="4.3"/><circle cx="711.2" cy="1571.8" r="4.3"/><circle cx="716.4" cy="1571.8" r="4.3"/><circle cx="721.5" cy="1571.8" r="4.3"/><circle cx="726.7" cy="1571.8" r="4.3"/><circle cx="731.9" cy="1571.8" r="4.3"/><circle cx="737.0" cy="1571.8" r="4.3"/><circle cx="742.2" cy="1571.8" r="4.3"/><circle cx="747.4" cy="1571.8" r="4.3"/><circle cx="752.5" cy="1571.8" r="4.3"/><circle cx="757.7" cy="1571.8" r="4.3"/><circle cx="762.8" cy="1571.8" r="4.3"/><circle cx="768.0" cy="1571.8" r="4.3"/><circle cx="773.2" cy="1571.8" r="4.3"/><circle cx="778.3" cy="1571.8" r="4.3"/><circle cx="783.5" cy="1571.8" r="4.3"/><circle cx="788.7" cy="1571.8" r="4.3"/><circle cx="793.8" cy="1571.8" r="4.3"/><circle cx="799.0" cy="1571.8" r="4.3"/><circle cx="804.2" cy="1571.8" r="4.3"/></g>
<g fill="#00bfff"><circle cx="133.0" cy="1995.3" r="4.3"/><circle cx="138.1" cy="1995.3" r="4.3"/><circle cx="143.3" cy="1995.3" r="4.3"/><circle cx="148.5" cy="1995.3" r="4.3"/><circle cx="153.6" cy="1995.3" r="4.3"/><circle cx="158.8" cy="1995.3" r="4.3"/><circle cx="163.9" cy="1995.3" r="4.3"/><circle cx="169.1" cy="1995.3" r="4.3"/><circle cx="174.3" cy="1995.3" r="4.3"/><circle cx="179.4" cy="1995.3" r="4.3"/><circle cx="184.6" cy="1995.3" r="4.3"/><circle cx="189.8" cy="1995.3" r="4.3"/><circle cx="194.9" cy="1995.3" r="4.3"/><circle cx="200.1" cy="1995.3" r="4.3"/><circle cx="205.2" cy="1995.3" r="4.3"/><circle cx="210.4" cy="1995.3" r="4.3"/><circle cx="215.6" cy="1995.3" r="4.3"/><circle cx="220.7" cy="1995.3" r="4.3"/><circle cx="225.9" cy="1995.3" r="4.3"/><circle cx="231.1" cy="1995.3" r="4.3"/><circle cx="236.2" cy="1995.3" r="4.3"/><circle cx="241.4" cy="1995.3" r="4.3"/><circle cx="246.5" cy="1991.7" r="4.3"/><circle cx="251.7" cy="1995.3" r="4.3"/><circle cx="256.9" cy="1995.3" r="4.3"/><circle cx="262.0" cy="1995.3" r="4.3"/><circle cx="267.2" cy="1995.3" r="4.3"/><circle cx="272.4" cy="1995.3" r="4.3"/><circle cx="277.5" cy="1995.3" r="4.3"/><circle cx="282.7" cy="1995.3" r="4.3"/><circle cx="287.9" cy="1995.3" r="4.3"/><circle cx="293.0" cy="1995.3" r="4.3"/><circle cx="298.2" cy="1995.3" r="4.3"/><circle cx="303.3" cy="1995.3" r="4.3"/><circle cx="308.5" cy="1995.3" r="4.3"/><circle cx="313.7" cy="1995.3" r="4.3"/><circle cx="318.8" cy="1993.9" r="4.3"/><circle cx="324.0" cy="1992.2" r="4.3"/><circle cx="329.2" cy="1991.0" r="4.3"/><circle cx="334.3" cy="1986.9" r="4.3"/><circle cx="339.5" cy="1986.9" r="4.3"/><circle cx="344.6" cy="1991.0" r="4.3"/><circle cx="349.8" cy="1982.6" r="4.3"/><circle cx="355.0" cy="1982.6" r="4.3"/><circle cx="360.1" cy="1982.6" r="4.3"/><circle cx="365.3" cy="1986.2" r="4.3"/><circle cx="370.5" cy="1987.4" r="4.3"/><circle cx="375.6" cy="1991.0" r="4.3"/><circle cx="380.8" cy="1983.8" r="4.3"/><circle cx="386.0" cy="1979.8" r="4.3"/><circle cx="391.1" cy="1979.0" r="4.3"/><circle cx="396.3" cy="1971.4" r="4.3"/><circle cx="401.4" cy="1966.6" r="4.3"/><circle cx="406.6" cy="1966.6" r="4.3"/><circle cx="411.8" cy="1971.4" r="4.3"/><circle cx="416.9" cy="1964.0" r="4.3"/><circle cx="422.1" cy="1966.4" r="4.3"/><circle cx="427.3" cy="1966.6" r="4.3"/><circle cx="432.4" cy="1974.7" r="4.3"/><circle cx="437.6" cy="1970.7" r="4.3"/><circle cx="442.7" cy="1979.0" r="4.3"/><circle cx="447.9" cy="1979.0" r="4.3"/><circle cx="453.1" cy="1971.2" r="4.3"/><circle cx="458.2" cy="1958.2" r="4.3"/><circle cx="463.4" cy="1951.5" r="4.3"/><circle cx="468.6" cy="1946.0" r="4.3"/><circle cx="473.7" cy="1933.6" r="4.3"/><circle cx="478.9" cy="1937.7" r="4.3"/><circle cx="484.0" cy="1939.1" r="4.3"/><circle cx="489.2" cy="1946.7" r="4.3"/><circle cx="494.4" cy="1943.2" r="4.3"/><circle cx="499.5" cy="1943.2" r="4.3"/><circle cx="504.7" cy="1924.5" r="4.3"/><circle cx="509.9" cy="1924.5" r="4.3"/><circle cx="515.0" cy="1917.3" r="4.3"/><circle cx="520.2" cy="1916.8" r="4.3"/><circle cx="525.4" cy="1917.3" r="4.3"/><circle cx="530.5" cy="1898.2" r="4.3"/><circle cx="535.7" cy="1885.3" r="4.3"/><circle cx="540.8" cy="1879.8" r="4.3"/><circle cx="546.0" cy="1872.6" r="4.3"/><circle cx="551.2" cy="1863.5" r="4.3"/><circle cx="556.3" cy="1873.3" r="4.3"/><circle cx="561.5" cy="1861.1" r="4.3"/><circle cx="566.7" cy="1863.0" r="4.3"/><circle cx="571.8" cy="1867.3" r="4.3"/><circle cx="577.0" cy="1862.5" r="4.3"/><circle cx="582.1" cy="1855.1" r="4.3"/><circle cx="587.3" cy="1846.3" r="4.3"/><circle cx="592.5" cy="1853.4" r="4.3"/><circle cx="597.6" cy="1844.6" r="4.3"/><circle cx="602.8" cy="1843.9" r="4.3"/><circle cx="608.0" cy="1842.2" r="4.3"/><circle cx="613.1" cy="1838.6" r="4.3"/><circle cx="618.3" cy="1833.6" r="4.3"/><circle cx="623.4" cy="1824.7" r="4.3"/><circle cx="628.6" cy="1817.1" r="4.3"/><circle cx="633.8" cy="1802.0" r="4.3"/><circle cx="638.9" cy="1794.3" r="4.3"/><circle cx="644.1" cy="1791.2" r="4.3"/><circle cx="649.3" cy="1799.1" r="4.3"/><circle cx="654.4" cy="1796.0" r="4.3"/><circle cx="659.6" cy="1790.0" r="4.3"/><circle cx="664.8" cy="1778.5" r="4.3"/><circle cx="669.9" cy="1773.3" r="4.3"/><circle cx="675.1" cy="1776.9" r="4.3"/><circle cx="680.2" cy="1788.1" r="4.3"/><circle cx="685.4" cy="1795.3" r="4.3"/><circle cx="690.6" cy="1796.7" r="4.3"/><circle cx="695.7" cy="1785.7" r="4.3"/><circle cx="700.9" cy="1782.1" r="4.3"/><circle cx="706.1" cy="1778.8" r="4.3"/><circle cx="711.2" cy="1762.5" r="4.3"/><circle cx="716.4" cy="1775.2" r="4.3"/><circle cx="721.5" cy="1795.5" r="4.3"/><circle cx="726.7" cy="1790.5" r="4.3"/><circle cx="731.9" cy="1772.1" r="4.3"/><circle cx="737.0" cy="1766.1" r="4.3"/><circle cx="742.2" cy="1751.3" r="4.3"/><circle cx="747.4" cy="1754.6" r="4.3"/><circle cx="752.5" cy="1750.6" r="4.3"/><circle cx="757.7" cy="1747.4" r="4.3"/><circle cx="762.8" cy="1745.3" r="4.3"/><circle cx="768.0" cy="1724.2" r="4.3"/><circle cx="773.2" cy="1731.4" r="4.3"/><circle cx="778.3" cy="1722.6" r="4.3"/><circle cx="783.5" cy="1717.8" r="4.3"/><circle cx="788.7" cy="1711.8" r="4.3"/><circle cx="793.8" cy="1719.4" r="4.3"/><circle cx="799.0" cy="1715.9" r="4.3"/><circle cx="804.2" cy="1710.4" r="4.3"/></g>
<g fill="#000080"><circle cx="133.0" cy="1996.5" r="4.3"/><circle cx="138.1" cy="1996.5" r="4.3"/><circle cx="143.3" cy="1996.5" r="4.3"/><circle cx="148.5" cy="1996.5" r="4.3"/><circle cx="153.6" cy="1996.5" r="4.3"/><circle cx="158.8" cy="1996.5" r="4.3"/><circle cx="163.9" cy="1996.5" r="4.3"/><circle cx="169.1" cy="1996.5" r="4.3"/><circle cx="174.3" cy="1996.5" r="4.3"/><circle cx="179.4" cy="1996.5" r="4.3"/><circle cx="184.6" cy="1996.5" r="4.3"/><circle cx="189.8" cy="1996.5" r="4.3"/><circle cx="194.9" cy="1996.5" r="4.3"/><circle cx="200.1" cy="1996.5" r="4.3"/><circle cx="205.2" cy="1996.5" r="4.3"/><circle cx="210.4" cy="1996.5" r="4.3"/><circle cx="215.6" cy="1996.5" r="4.3"/><circle cx="220.7" cy="1996.5" r="4.3"/><circle cx="225.9" cy="1996.5" r="4.3"/><circle cx="231.1" cy="1996.5" r="4.3"/><circle cx="236.2" cy="1996.5" r="4.3"/><circle cx="241.4" cy="1996.5" r="4.3"/><circle cx="246.5" cy="1996.5" r="4.3"/><circle cx="251.7" cy="1996.5" r="4.3"/><circle cx="256.9" cy="1996.5" r="4.3"/><circle cx="262.0" cy="1996.5" r="4.3"/><circle cx="267.2" cy="1996.5" r="4.3"/><circle cx="272.4" cy="1996.5" r="4.3"/><circle cx="277.5" cy="1996.5" r="4.3"/><circle cx="282.7" cy="1996.5" r="4.3"/><circle cx="287.9" cy="1996.5" r="4.3"/><circle cx="293.0" cy="1996.5" r="4.3"/><circle cx="298.2" cy="1996.5" r="4.3"/><circle cx="303.3" cy="1996.5" r="4.3"/><circle cx="308.5" cy="1995.3" r="4.3"/><circle cx="313.7" cy="1995.3" r="4.3"/><circle cx="318.8" cy="1995.3" r="4.3"/><circle cx="324.0" cy="1995.3" r="4.3"/><circle cx="329.2" cy="1996.5" r="4.3"/><circle cx="334.3" cy="1996.5" r="4.3"/><circle cx="339.5" cy="1996.5" r="4.3"/><circle cx="344.6" cy="1996.5" r="4.3"/><circle cx="349.8" cy="1996.5" r="4.3"/><circle cx="355.0" cy="1996.5" r="4.3"/><circle cx="360.1" cy="1996.5" r="4.3"/><circle cx="365.3" cy="1996.5" r="4.3"/><circle cx="370.5" cy="1996.5" r="4.3"/><circle cx="375.6" cy="1996.5" r="4.3"/><circle cx="380.8" cy="1996.5" r="4.3"/><circle cx="386.0" cy="1993.9" r="4.3"/><circle cx="391.1" cy="1993.9" r="4.3"/><circle cx="396.3" cy="1993.9" r="4.3"/><circle cx="401.4" cy="1993.9" r="4.3"/><circle cx="406.6" cy="1993.9" r="4.3"/><circle cx="411.8" cy="1993.9" r="4.3"/><circle cx="416.9" cy="1993.9" r="4.3"/><circle cx="422.1" cy="1993.9" r="4.3"/><circle cx="427.3" cy="1993.9" r="4.3"/><circle cx="432.4" cy="1996.5" r="4.3"/><circle cx="437.6" cy="1996.5" r="4.3"/><circle cx="442.7" cy="1996.5" r="4.3"/><circle cx="447.9" cy="1996.5" r="4.3"/><circle cx="453.1" cy="1996.5" r="4.3"/><circle cx="458.2" cy="1989.8" r="4.3"/><circle cx="463.4" cy="1992.9" r="4.3"/><circle cx="468.6" cy="1991.7" r="4.3"/><circle cx="473.7" cy="1990.3" r="4.3"/><circle cx="478.9" cy="1989.3" r="4.3"/><circle cx="484.0" cy="1992.9" r="4.3"/><circle cx="489.2" cy="1988.6" r="4.3"/><circle cx="494.4" cy="1991.5" r="4.3"/><circle cx="499.5" cy="1993.4" r="4.3"/><circle cx="504.7" cy="1994.6" r="4.3"/><circle cx="509.9" cy="1986.9" r="4.3"/><circle cx="515.0" cy="1991.5" r="4.3"/><circle cx="520.2" cy="1989.8" r="4.3"/><circle cx="525.4" cy="1989.1" r="4.3"/><circle cx="530.5" cy="1984.6" r="4.3"/><circle cx="535.7" cy="1981.0" r="4.3"/><circle cx="540.8" cy="1979.0" r="4.3"/><circle cx="546.0" cy="1976.2" r="4.3"/><circle cx="551.2" cy="1982.2" r="4.3"/><circle cx="556.3" cy="1983.4" r="4.3"/><circle cx="561.5" cy="1984.3" r="4.3"/><circle cx="566.7" cy="1982.2" r="4.3"/><circle cx="571.8" cy="1979.0" r="4.3"/><circle cx="577.0" cy="1977.4" r="4.3"/><circle cx="582.1" cy="1976.7" r="4.3"/><circle cx="587.3" cy="1975.9" r="4.3"/><circle cx="592.5" cy="1981.9" r="4.3"/><circle cx="597.6" cy="1981.9" r="4.3"/><circle cx="602.8" cy="1981.4" r="4.3"/><circle cx="608.0" cy="1985.5" r="4.3"/><circle cx="613.1" cy="1979.0" r="4.3"/><circle cx="618.3" cy="1981.9" r="4.3"/><circle cx="623.4" cy="1971.9" r="4.3"/><circle cx="628.6" cy="1974.3" r="4.3"/><circle cx="633.8" cy="1975.0" r="4.3"/><circle cx="638.9" cy="1975.5" r="4.3"/><circle cx="644.1" cy="1968.3" r="4.3"/><circle cx="649.3" cy="1972.3" r="4.3"/><circle cx="654.4" cy="1962.3" r="4.3"/><circle cx="659.6" cy="1959.4" r="4.3"/><circle cx="664.8" cy="1964.7" r="4.3"/><circle cx="669.9" cy="1964.2" r="4.3"/><circle cx="675.1" cy="1964.2" r="4.3"/><circle cx="680.2" cy="1959.4" r="4.3"/><circle cx="685.4" cy="1962.3" r="4.3"/><circle cx="690.6" cy="1971.4" r="4.3"/><circle cx="695.7" cy="1964.0" r="4.3"/><circle cx="700.9" cy="1970.7" r="4.3"/><circle cx="706.1" cy="1971.4" r="4.3"/><circle cx="711.2" cy="1965.9" r="4.3"/><circle cx="716.4" cy="1961.1" r="4.3"/><circle cx="721.5" cy="1963.0" r="4.3"/><circle cx="726.7" cy="1951.1" r="4.3"/><circle cx="731.9" cy="1952.7" r="4.3"/><circle cx="737.0" cy="1958.0" r="4.3"/><circle cx="742.2" cy="1946.7" r="4.3"/><circle cx="747.4" cy="1938.4" r="4.3"/><circle cx="752.5" cy="1939.1" r="4.3"/><circle cx="757.7" cy="1942.7" r="4.3"/><circle cx="762.8" cy="1943.9" r="4.3"/><circle cx="768.0" cy="1940.0" r="4.3"/><circle cx="773.2" cy="1954.4" r="4.3"/><circle cx="778.3" cy="1934.3" r="4.3"/><circle cx="783.5" cy="1925.2" r="4.3"/><circle cx="788.7" cy="1934.1" r="4.3"/><circle cx="793.8" cy="1924.5" r="4.3"/><circle cx="799.0" cy="1918.8" r="4.3"/><circle cx="804.2" cy="1917.6" r="4.3"/></g>
<rect x="100.5" y="1551.7" width="737.5" height="465.89999999999986" fill="none" stroke="#333" stroke-width="2.4"/>
<text class="t" x="309.9" y="1531.1" font-size="29.8" text-anchor="start" >5 CD14+ Monocytes</text>
<text class="p" font-size="29.8" fill="#1a1a1a" text-anchor="middle" transform="translate(43.2,1785.7) rotate(-90)">Area under curve</text>
<text class="p" x="469.2" y="2082.3" font-size="30.4" fill="#1a1a1a" text-anchor="middle"># of DE genes</text>
</g>
<g>
<rect x="944.6" y="1552" width="737.3000000000001" height="465.5999999999999" fill="#fff"/>
<line x1="944.6" x2="1681.9" y1="1615.1" y2="1615.1" stroke="#f3f3f3" stroke-width="1.1"/>
<line x1="944.6" x2="1681.9" y1="1699.8" y2="1699.8" stroke="#f3f3f3" stroke-width="1.1"/>
<line x1="944.6" x2="1681.9" y1="1784.5" y2="1784.5" stroke="#f3f3f3" stroke-width="1.1"/>
<line x1="944.6" x2="1681.9" y1="1869.2" y2="1869.2" stroke="#f3f3f3" stroke-width="1.1"/>
<line x1="944.6" x2="1681.9" y1="1954.0" y2="1954.0" stroke="#f3f3f3" stroke-width="1.1"/>
<line x1="1090.4" x2="1090.4" y1="1552" y2="2017.6" stroke="#f3f3f3" stroke-width="1.1"/>
<line x1="1324.9" x2="1324.9" y1="1552" y2="2017.6" stroke="#f3f3f3" stroke-width="1.1"/>
<line x1="1559.3" x2="1559.3" y1="1552" y2="2017.6" stroke="#f3f3f3" stroke-width="1.1"/>
<line x1="1676.6" x2="1676.6" y1="1552" y2="2017.6" stroke="#f3f3f3" stroke-width="1.1"/>
<line x1="944.6" x2="1681.9" y1="1572.8" y2="1572.8" stroke="#ebebeb" stroke-width="2"/>
<text class="p" x="934.4" y="1582.8" font-size="26.6" fill="#4d4d4d" text-anchor="end">1.0</text>
<line x1="944.6" x2="1681.9" y1="1657.5" y2="1657.5" stroke="#ebebeb" stroke-width="2"/>
<text class="p" x="934.4" y="1667.5" font-size="26.6" fill="#4d4d4d" text-anchor="end">0.9</text>
<line x1="944.6" x2="1681.9" y1="1742.2" y2="1742.2" stroke="#ebebeb" stroke-width="2"/>
<text class="p" x="934.4" y="1752.2" font-size="26.6" fill="#4d4d4d" text-anchor="end">0.8</text>
<line x1="944.6" x2="1681.9" y1="1826.9" y2="1826.9" stroke="#ebebeb" stroke-width="2"/>
<text class="p" x="934.4" y="1836.9" font-size="26.6" fill="#4d4d4d" text-anchor="end">0.7</text>
<line x1="944.6" x2="1681.9" y1="1911.6" y2="1911.6" stroke="#ebebeb" stroke-width="2"/>
<text class="p" x="934.4" y="1921.6" font-size="26.6" fill="#4d4d4d" text-anchor="end">0.6</text>
<line x1="944.6" x2="1681.9" y1="1996.3" y2="1996.3" stroke="#ebebeb" stroke-width="2"/>
<text class="p" x="934.4" y="2006.3" font-size="26.6" fill="#4d4d4d" text-anchor="end">0.5</text>
<line x1="973.1" x2="973.1" y1="1552" y2="2017.6" stroke="#ebebeb" stroke-width="2"/>
<text class="p" x="973.1" y="2047.7" font-size="26.6" fill="#4d4d4d" text-anchor="middle">0</text>
<line x1="1207.6" x2="1207.6" y1="1552" y2="2017.6" stroke="#ebebeb" stroke-width="2"/>
<text class="p" x="1207.6" y="2047.7" font-size="26.6" fill="#4d4d4d" text-anchor="middle">50</text>
<line x1="1442.1" x2="1442.1" y1="1552" y2="2017.6" stroke="#ebebeb" stroke-width="2"/>
<text class="p" x="1442.1" y="2047.7" font-size="26.6" fill="#4d4d4d" text-anchor="middle">100</text>
<g fill="#ff0000"><circle cx="977.8" cy="1991.0" r="4.3"/><circle cx="982.5" cy="1987.4" r="4.3"/><circle cx="987.2" cy="1979.8" r="4.3"/><circle cx="991.9" cy="1965.9" r="4.3"/><circle cx="996.6" cy="1961.8" r="4.3"/><circle cx="1001.2" cy="1958.2" r="4.3"/><circle cx="1005.9" cy="1955.6" r="4.3"/><circle cx="1010.6" cy="1953.2" r="4.3"/><circle cx="1015.3" cy="1957.5" r="4.3"/><circle cx="1020.0" cy="1955.1" r="4.3"/><circle cx="1024.7" cy="1952.3" r="4.3"/><circle cx="1029.4" cy="1939.1" r="4.3"/><circle cx="1034.1" cy="1949.9" r="4.3"/><circle cx="1038.8" cy="1942.0" r="4.3"/><circle cx="1043.5" cy="1936.5" r="4.3"/><circle cx="1048.1" cy="1924.5" r="4.3"/><circle cx="1052.8" cy="1909.2" r="4.3"/><circle cx="1057.5" cy="1910.9" r="4.3"/><circle cx="1062.2" cy="1914.9" r="4.3"/><circle cx="1066.9" cy="1891.0" r="4.3"/><circle cx="1071.6" cy="1867.8" r="4.3"/><circle cx="1076.3" cy="1870.2" r="4.3"/><circle cx="1081.0" cy="1847.9" r="4.3"/><circle cx="1085.7" cy="1854.6" r="4.3"/><circle cx="1090.4" cy="1847.5" r="4.3"/><circle cx="1095.0" cy="1813.5" r="4.3"/><circle cx="1099.7" cy="1793.1" r="4.3"/><circle cx="1104.4" cy="1796.7" r="4.3"/><circle cx="1109.1" cy="1773.8" r="4.3"/><circle cx="1113.8" cy="1771.6" r="4.3"/><circle cx="1118.5" cy="1767.3" r="4.3"/><circle cx="1123.2" cy="1749.4" r="4.3"/><circle cx="1127.9" cy="1736.9" r="4.3"/><circle cx="1132.6" cy="1732.1" r="4.3"/><circle cx="1137.2" cy="1729.0" r="4.3"/><circle cx="1141.9" cy="1735.0" r="4.3"/><circle cx="1146.6" cy="1737.9" r="4.3"/><circle cx="1151.3" cy="1715.4" r="4.3"/><circle cx="1156.0" cy="1712.7" r="4.3"/><circle cx="1160.7" cy="1719.4" r="4.3"/><circle cx="1165.4" cy="1703.2" r="4.3"/><circle cx="1170.1" cy="1683.6" r="4.3"/><circle cx="1174.8" cy="1689.1" r="4.3"/><circle cx="1179.5" cy="1672.8" r="4.3"/><circle cx="1184.2" cy="1662.0" r="4.3"/><circle cx="1188.8" cy="1651.3" r="4.3"/><circle cx="1193.5" cy="1662.5" r="4.3"/><circle cx="1198.2" cy="1658.0" r="4.3"/><circle cx="1202.9" cy="1661.3" r="4.3"/><circle cx="1207.6" cy="1651.7" r="4.3"/><circle cx="1212.3" cy="1658.4" r="4.3"/><circle cx="1217.0" cy="1651.7" r="4.3"/><circle cx="1221.7" cy="1652.9" r="4.3"/><circle cx="1226.4" cy="1652.9" r="4.3"/><circle cx="1231.1" cy="1648.9" r="4.3"/><circle cx="1235.7" cy="1640.5" r="4.3"/><circle cx="1240.4" cy="1642.4" r="4.3"/><circle cx="1245.1" cy="1641.2" r="4.3"/><circle cx="1249.8" cy="1633.3" r="4.3"/><circle cx="1254.5" cy="1626.1" r="4.3"/><circle cx="1259.2" cy="1622.1" r="4.3"/><circle cx="1263.9" cy="1616.6" r="4.3"/><circle cx="1268.6" cy="1604.6" r="4.3"/><circle cx="1273.3" cy="1593.1" r="4.3"/><circle cx="1278.0" cy="1596.7" r="4.3"/><circle cx="1282.6" cy="1597.4" r="4.3"/><circle cx="1287.3" cy="1591.4" r="4.3"/><circle cx="1292.0" cy="1588.6" r="4.3"/><circle cx="1296.7" cy="1587.9" r="4.3"/><circle cx="1301.4" cy="1589.0" r="4.3"/><circle cx="1306.1" cy="1589.0" r="4.3"/><circle cx="1310.8" cy="1589.8" r="4.3"/><circle cx="1315.5" cy="1594.3" r="4.3"/><circle cx="1320.2" cy="1597.4" r="4.3"/><circle cx="1324.9" cy="1598.1" r="4.3"/><circle cx="1329.5" cy="1592.6" r="4.3"/><circle cx="1334.2" cy="1590.2" r="4.3"/><circle cx="1338.9" cy="1593.8" r="4.3"/><circle cx="1343.6" cy="1595.0" r="4.3"/><circle cx="1348.3" cy="1595.7" r="4.3"/><circle cx="1353.0" cy="1592.2" r="4.3"/><circle cx="1357.7" cy="1592.6" r="4.3"/><circle cx="1362.4" cy="1592.6" r="4.3"/><circle cx="1367.1" cy="1596.9" r="4.3"/><circle cx="1371.8" cy="1597.4" r="4.3"/><circle cx="1376.4" cy="1597.4" r="4.3"/><circle cx="1381.1" cy="1595.7" r="4.3"/><circle cx="1385.8" cy="1592.6" r="4.3"/><circle cx="1390.5" cy="1593.8" r="4.3"/><circle cx="1395.2" cy="1589.8" r="4.3"/><circle cx="1399.9" cy="1592.2" r="4.3"/><circle cx="1404.6" cy="1593.8" r="4.3"/><circle cx="1409.3" cy="1593.8" r="4.3"/><circle cx="1414.0" cy="1596.9" r="4.3"/><circle cx="1418.7" cy="1594.3" r="4.3"/><circle cx="1423.3" cy="1595.5" r="4.3"/><circle cx="1428.0" cy="1593.8" r="4.3"/><circle cx="1432.7" cy="1592.6" r="4.3"/><circle cx="1437.4" cy="1595.0" r="4.3"/><circle cx="1442.1" cy="1596.2" r="4.3"/><circle cx="1446.8" cy="1597.4" r="4.3"/><circle cx="1451.5" cy="1595.5" r="4.3"/><circle cx="1456.2" cy="1591.4" r="4.3"/><circle cx="1460.9" cy="1593.1" r="4.3"/><circle cx="1465.6" cy="1592.6" r="4.3"/><circle cx="1470.2" cy="1590.7" r="4.3"/><circle cx="1474.9" cy="1591.9" r="4.3"/><circle cx="1479.6" cy="1590.7" r="4.3"/><circle cx="1484.3" cy="1592.6" r="4.3"/><circle cx="1489.0" cy="1589.5" r="4.3"/><circle cx="1493.7" cy="1590.7" r="4.3"/><circle cx="1498.4" cy="1591.4" r="4.3"/><circle cx="1503.1" cy="1590.7" r="4.3"/><circle cx="1507.8" cy="1589.5" r="4.3"/><circle cx="1512.5" cy="1591.0" r="4.3"/><circle cx="1517.1" cy="1586.2" r="4.3"/><circle cx="1521.8" cy="1586.7" r="4.3"/><circle cx="1526.5" cy="1589.0" r="4.3"/><circle cx="1531.2" cy="1586.7" r="4.3"/><circle cx="1535.9" cy="1585.5" r="4.3"/><circle cx="1540.6" cy="1583.1" r="4.3"/><circle cx="1545.3" cy="1581.9" r="4.3"/><circle cx="1550.0" cy="1583.8" r="4.3"/><circle cx="1554.7" cy="1587.9" r="4.3"/><circle cx="1559.3" cy="1589.0" r="4.3"/><circle cx="1564.0" cy="1589.5" r="4.3"/><circle cx="1568.7" cy="1590.2" r="4.3"/><circle cx="1573.4" cy="1591.0" r="4.3"/><circle cx="1578.1" cy="1589.8" r="4.3"/><circle cx="1582.8" cy="1589.0" r="4.3"/><circle cx="1587.5" cy="1591.9" r="4.3"/><circle cx="1592.2" cy="1589.8" r="4.3"/><circle cx="1596.9" cy="1586.7" r="4.3"/><circle cx="1601.6" cy="1583.1" r="4.3"/><circle cx="1606.2" cy="1584.7" r="4.3"/><circle cx="1610.9" cy="1584.3" r="4.3"/><circle cx="1615.6" cy="1584.3" r="4.3"/><circle cx="1620.3" cy="1584.7" r="4.3"/><circle cx="1625.0" cy="1584.7" r="4.3"/><circle cx="1629.7" cy="1585.0" r="4.3"/><circle cx="1634.4" cy="1585.5" r="4.3"/><circle cx="1639.1" cy="1584.7" r="4.3"/><circle cx="1643.8" cy="1583.8" r="4.3"/><circle cx="1648.5" cy="1582.6" r="4.3"/></g>
<g fill="#008b00"><circle cx="977.8" cy="1985.0" r="4.3"/><circle cx="982.5" cy="1959.4" r="4.3"/><circle cx="987.2" cy="1942.7" r="4.3"/><circle cx="991.9" cy="1921.1" r="4.3"/><circle cx="996.6" cy="1901.3" r="4.3"/><circle cx="1001.2" cy="1903.7" r="4.3"/><circle cx="1005.9" cy="1893.6" r="4.3"/><circle cx="1010.6" cy="1872.6" r="4.3"/><circle cx="1015.3" cy="1896.5" r="4.3"/><circle cx="1020.0" cy="1879.3" r="4.3"/><circle cx="1024.7" cy="1860.6" r="4.3"/><circle cx="1029.4" cy="1860.6" r="4.3"/><circle cx="1034.1" cy="1858.9" r="4.3"/><circle cx="1038.8" cy="1870.9" r="4.3"/><circle cx="1043.5" cy="1846.7" r="4.3"/><circle cx="1048.1" cy="1799.6" r="4.3"/><circle cx="1052.8" cy="1776.4" r="4.3"/><circle cx="1057.5" cy="1767.8" r="4.3"/><circle cx="1062.2" cy="1776.4" r="4.3"/><circle cx="1066.9" cy="1777.6" r="4.3"/><circle cx="1071.6" cy="1758.9" r="4.3"/><circle cx="1076.3" cy="1752.5" r="4.3"/><circle cx="1081.0" cy="1735.0" r="4.3"/><circle cx="1085.7" cy="1736.9" r="4.3"/><circle cx="1090.4" cy="1711.1" r="4.3"/><circle cx="1095.0" cy="1693.1" r="4.3"/><circle cx="1099.7" cy="1663.7" r="4.3"/><circle cx="1104.4" cy="1680.4" r="4.3"/><circle cx="1109.1" cy="1663.2" r="4.3"/><circle cx="1113.8" cy="1655.3" r="4.3"/><circle cx="1118.5" cy="1662.0" r="4.3"/><circle cx="1123.2" cy="1646.0" r="4.3"/><circle cx="1127.9" cy="1638.8" r="4.3"/><circle cx="1132.6" cy="1639.3" r="4.3"/><circle cx="1137.2" cy="1635.0" r="4.3"/><circle cx="1141.9" cy="1635.0" r="4.3"/><circle cx="1146.6" cy="1636.4" r="4.3"/><circle cx="1151.3" cy="1630.9" r="4.3"/><circle cx="1156.0" cy="1622.1" r="4.3"/><circle cx="1160.7" cy="1617.8" r="4.3"/><circle cx="1165.4" cy="1610.6" r="4.3"/><circle cx="1170.1" cy="1608.7" r="4.3"/><circle cx="1174.8" cy="1608.7" r="4.3"/><circle cx="1179.5" cy="1599.1" r="4.3"/><circle cx="1184.2" cy="1597.4" r="4.3"/><circle cx="1188.8" cy="1599.3" r="4.3"/><circle cx="1193.5" cy="1599.1" r="4.3"/><circle cx="1198.2" cy="1599.3" r="4.3"/><circle cx="1202.9" cy="1604.1" r="4.3"/><circle cx="1207.6" cy="1599.8" r="4.3"/><circle cx="1212.3" cy="1600.3" r="4.3"/><circle cx="1217.0" cy="1608.7" r="4.3"/><circle cx="1221.7" cy="1617.8" r="4.3"/><circle cx="1226.4" cy="1613.0" r="4.3"/><circle cx="1231.1" cy="1614.2" r="4.3"/><circle cx="1235.7" cy="1606.5" r="4.3"/><circle cx="1240.4" cy="1597.4" r="4.3"/><circle cx="1245.1" cy="1593.1" r="4.3"/><circle cx="1249.8" cy="1595.0" r="4.3"/><circle cx="1254.5" cy="1592.2" r="4.3"/><circle cx="1259.2" cy="1592.6" r="4.3"/><circle cx="1263.9" cy="1586.2" r="4.3"/><circle cx="1268.6" cy="1583.1" r="4.3"/><circle cx="1273.3" cy="1582.6" r="4.3"/><circle cx="1278.0" cy="1583.1" r="4.3"/><circle cx="1282.6" cy="1583.1" r="4.3"/><circle cx="1287.3" cy="1578.3" r="4.3"/><circle cx="1292.0" cy="1581.4" r="4.3"/><circle cx="1296.7" cy="1579.5" r="4.3"/><circle cx="1301.4" cy="1579.5" r="4.3"/><circle cx="1306.1" cy="1579.0" r="4.3"/><circle cx="1310.8" cy="1578.3" r="4.3"/><circle cx="1315.5" cy="1575.2" r="4.3"/><circle cx="1320.2" cy="1579.5" r="4.3"/><circle cx="1324.9" cy="1579.5" r="4.3"/><circle cx="1329.5" cy="1571.8" r="4.3"/><circle cx="1334.2" cy="1571.6" r="4.3"/><circle cx="1338.9" cy="1571.6" r="4.3"/><circle cx="1343.6" cy="1576.6" r="4.3"/><circle cx="1348.3" cy="1581.2" r="4.3"/><circle cx="1353.0" cy="1578.3" r="4.3"/><circle cx="1357.7" cy="1578.3" r="4.3"/><circle cx="1362.4" cy="1578.3" r="4.3"/><circle cx="1367.1" cy="1578.3" r="4.3"/><circle cx="1371.8" cy="1578.3" r="4.3"/><circle cx="1376.4" cy="1578.3" r="4.3"/><circle cx="1381.1" cy="1578.3" r="4.3"/><circle cx="1385.8" cy="1578.3" r="4.3"/><circle cx="1390.5" cy="1574.7" r="4.3"/><circle cx="1395.2" cy="1572.3" r="4.3"/><circle cx="1399.9" cy="1571.8" r="4.3"/><circle cx="1404.6" cy="1571.8" r="4.3"/><circle cx="1409.3" cy="1571.8" r="4.3"/><circle cx="1414.0" cy="1571.8" r="4.3"/><circle cx="1418.7" cy="1571.8" r="4.3"/><circle cx="1423.3" cy="1571.8" r="4.3"/><circle cx="1428.0" cy="1574.7" r="4.3"/><circle cx="1432.7" cy="1574.2" r="4.3"/><circle cx="1437.4" cy="1574.2" r="4.3"/><circle cx="1442.1" cy="1576.4" r="4.3"/><circle cx="1446.8" cy="1577.1" r="4.3"/><circle cx="1451.5" cy="1577.1" r="4.3"/><circle cx="1456.2" cy="1576.4" r="4.3"/><circle cx="1460.9" cy="1572.3" r="4.3"/><circle cx="1465.6" cy="1571.8" r="4.3"/><circle cx="1470.2" cy="1571.8" r="4.3"/><circle cx="1474.9" cy="1574.7" r="4.3"/><circle cx="1479.6" cy="1572.3" r="4.3"/><circle cx="1484.3" cy="1571.8" r="4.3"/><circle cx="1489.0" cy="1571.8" r="4.3"/><circle cx="1493.7" cy="1571.8" r="4.3"/><circle cx="1498.4" cy="1571.8" r="4.3"/><circle cx="1503.1" cy="1571.8" r="4.3"/><circle cx="1507.8" cy="1571.8" r="4.3"/><circle cx="1512.5" cy="1571.8" r="4.3"/><circle cx="1517.1" cy="1571.8" r="4.3"/><circle cx="1521.8" cy="1571.8" r="4.3"/><circle cx="1526.5" cy="1571.8" r="4.3"/><circle cx="1531.2" cy="1571.8" r="4.3"/><circle cx="1535.9" cy="1571.8" r="4.3"/><circle cx="1540.6" cy="1571.8" r="4.3"/><circle cx="1545.3" cy="1571.8" r="4.3"/><circle cx="1550.0" cy="1571.8" r="4.3"/><circle cx="1554.7" cy="1571.8" r="4.3"/><circle cx="1559.3" cy="1571.8" r="4.3"/><circle cx="1564.0" cy="1571.8" r="4.3"/><circle cx="1568.7" cy="1571.8" r="4.3"/><circle cx="1573.4" cy="1571.8" r="4.3"/><circle cx="1578.1" cy="1571.8" r="4.3"/><circle cx="1582.8" cy="1571.8" r="4.3"/><circle cx="1587.5" cy="1571.8" r="4.3"/><circle cx="1592.2" cy="1571.8" r="4.3"/><circle cx="1596.9" cy="1571.8" r="4.3"/><circle cx="1601.6" cy="1571.8" r="4.3"/><circle cx="1606.2" cy="1571.8" r="4.3"/><circle cx="1610.9" cy="1571.8" r="4.3"/><circle cx="1615.6" cy="1571.8" r="4.3"/><circle cx="1620.3" cy="1571.8" r="4.3"/><circle cx="1625.0" cy="1571.8" r="4.3"/><circle cx="1629.7" cy="1571.8" r="4.3"/><circle cx="1634.4" cy="1571.8" r="4.3"/><circle cx="1639.1" cy="1571.8" r="4.3"/><circle cx="1643.8" cy="1571.8" r="4.3"/><circle cx="1648.5" cy="1571.8" r="4.3"/></g>
<g fill="#00bfff"><circle cx="977.8" cy="1995.3" r="4.3"/><circle cx="982.5" cy="1995.3" r="4.3"/><circle cx="987.2" cy="1995.3" r="4.3"/><circle cx="991.9" cy="1995.3" r="4.3"/><circle cx="996.6" cy="1995.3" r="4.3"/><circle cx="1001.2" cy="1995.3" r="4.3"/><circle cx="1005.9" cy="1995.3" r="4.3"/><circle cx="1010.6" cy="1995.3" r="4.3"/><circle cx="1015.3" cy="1995.3" r="4.3"/><circle cx="1020.0" cy="1995.3" r="4.3"/><circle cx="1024.7" cy="1995.3" r="4.3"/><circle cx="1029.4" cy="1995.3" r="4.3"/><circle cx="1034.1" cy="1995.3" r="4.3"/><circle cx="1038.8" cy="1995.3" r="4.3"/><circle cx="1043.5" cy="1995.3" r="4.3"/><circle cx="1048.1" cy="1995.3" r="4.3"/><circle cx="1052.8" cy="1995.3" r="4.3"/><circle cx="1057.5" cy="1995.3" r="4.3"/><circle cx="1062.2" cy="1995.3" r="4.3"/><circle cx="1066.9" cy="1995.3" r="4.3"/><circle cx="1071.6" cy="1995.3" r="4.3"/><circle cx="1076.3" cy="1995.3" r="4.3"/><circle cx="1081.0" cy="1995.3" r="4.3"/><circle cx="1085.7" cy="1995.3" r="4.3"/><circle cx="1090.4" cy="1995.3" r="4.3"/><circle cx="1095.0" cy="1995.3" r="4.3"/><circle cx="1099.7" cy="1995.3" r="4.3"/><circle cx="1104.4" cy="1995.3" r="4.3"/><circle cx="1109.1" cy="1995.3" r="4.3"/><circle cx="1113.8" cy="1995.3" r="4.3"/><circle cx="1118.5" cy="1995.3" r="4.3"/><circle cx="1123.2" cy="1995.3" r="4.3"/><circle cx="1127.9" cy="1992.2" r="4.3"/><circle cx="1132.6" cy="1991.0" r="4.3"/><circle cx="1137.2" cy="1988.6" r="4.3"/><circle cx="1141.9" cy="1985.0" r="4.3"/><circle cx="1146.6" cy="1981.0" r="4.3"/><circle cx="1151.3" cy="1978.6" r="4.3"/><circle cx="1156.0" cy="1976.7" r="4.3"/><circle cx="1160.7" cy="1974.7" r="4.3"/><circle cx="1165.4" cy="1974.7" r="4.3"/><circle cx="1170.1" cy="1975.9" r="4.3"/><circle cx="1174.8" cy="1980.2" r="4.3"/><circle cx="1179.5" cy="1973.1" r="4.3"/><circle cx="1184.2" cy="1967.6" r="4.3"/><circle cx="1188.8" cy="1967.1" r="4.3"/><circle cx="1193.5" cy="1967.6" r="4.3"/><circle cx="1198.2" cy="1974.3" r="4.3"/><circle cx="1202.9" cy="1973.1" r="4.3"/><circle cx="1207.6" cy="1972.6" r="4.3"/><circle cx="1212.3" cy="1970.7" r="4.3"/><circle cx="1217.0" cy="1970.0" r="4.3"/><circle cx="1221.7" cy="1962.3" r="4.3"/><circle cx="1226.4" cy="1963.5" r="4.3"/><circle cx="1231.1" cy="1966.6" r="4.3"/><circle cx="1235.7" cy="1964.2" r="4.3"/><circle cx="1240.4" cy="1963.5" r="4.3"/><circle cx="1245.1" cy="1954.6" r="4.3"/><circle cx="1249.8" cy="1946.0" r="4.3"/><circle cx="1254.5" cy="1944.4" r="4.3"/><circle cx="1259.2" cy="1943.6" r="4.3"/><circle cx="1263.9" cy="1936.0" r="4.3"/><circle cx="1268.6" cy="1926.9" r="4.3"/><circle cx="1273.3" cy="1927.6" r="4.3"/><circle cx="1278.0" cy="1918.5" r="4.3"/><circle cx="1282.6" cy="1922.8" r="4.3"/><circle cx="1287.3" cy="1927.1" r="4.3"/><circle cx="1292.0" cy="1921.1" r="4.3"/><circle cx="1296.7" cy="1922.8" r="4.3"/><circle cx="1301.4" cy="1925.9" r="4.3"/><circle cx="1306.1" cy="1920.9" r="4.3"/><circle cx="1310.8" cy="1918.5" r="4.3"/><circle cx="1315.5" cy="1916.8" r="4.3"/><circle cx="1320.2" cy="1914.4" r="4.3"/><circle cx="1324.9" cy="1907.3" r="4.3"/><circle cx="1329.5" cy="1905.6" r="4.3"/><circle cx="1334.2" cy="1898.2" r="4.3"/><circle cx="1338.9" cy="1896.5" r="4.3"/><circle cx="1343.6" cy="1898.2" r="4.3"/><circle cx="1348.3" cy="1896.5" r="4.3"/><circle cx="1353.0" cy="1881.7" r="4.3"/><circle cx="1357.7" cy="1873.3" r="4.3"/><circle cx="1362.4" cy="1865.4" r="4.3"/><circle cx="1367.1" cy="1851.8" r="4.3"/><circle cx="1371.8" cy="1860.6" r="4.3"/><circle cx="1376.4" cy="1851.0" r="4.3"/><circle cx="1381.1" cy="1842.7" r="4.3"/><circle cx="1385.8" cy="1841.5" r="4.3"/><circle cx="1390.5" cy="1835.0" r="4.3"/><circle cx="1395.2" cy="1841.5" r="4.3"/><circle cx="1399.9" cy="1832.4" r="4.3"/><circle cx="1404.6" cy="1827.8" r="4.3"/><circle cx="1409.3" cy="1839.8" r="4.3"/><circle cx="1414.0" cy="1847.5" r="4.3"/><circle cx="1418.7" cy="1846.3" r="4.3"/><circle cx="1423.3" cy="1843.9" r="4.3"/><circle cx="1428.0" cy="1830.2" r="4.3"/><circle cx="1432.7" cy="1831.9" r="4.3"/><circle cx="1437.4" cy="1834.3" r="4.3"/><circle cx="1442.1" cy="1819.2" r="4.3"/><circle cx="1446.8" cy="1833.8" r="4.3"/><circle cx="1451.5" cy="1831.4" r="4.3"/><circle cx="1456.2" cy="1812.8" r="4.3"/><circle cx="1460.9" cy="1803.9" r="4.3"/><circle cx="1465.6" cy="1800.3" r="4.3"/><circle cx="1470.2" cy="1806.3" r="4.3"/><circle cx="1474.9" cy="1813.2" r="4.3"/><circle cx="1479.6" cy="1798.4" r="4.3"/><circle cx="1484.3" cy="1799.1" r="4.3"/><circle cx="1489.0" cy="1798.4" r="4.3"/><circle cx="1493.7" cy="1780.5" r="4.3"/><circle cx="1498.4" cy="1778.8" r="4.3"/><circle cx="1503.1" cy="1770.9" r="4.3"/><circle cx="1507.8" cy="1768.5" r="4.3"/><circle cx="1512.5" cy="1761.3" r="4.3"/><circle cx="1517.1" cy="1752.9" r="4.3"/><circle cx="1521.8" cy="1749.8" r="4.3"/><circle cx="1526.5" cy="1751.3" r="4.3"/><circle cx="1531.2" cy="1737.9" r="4.3"/><circle cx="1535.9" cy="1745.3" r="4.3"/><circle cx="1540.6" cy="1749.8" r="4.3"/><circle cx="1545.3" cy="1749.4" r="4.3"/><circle cx="1550.0" cy="1747.7" r="4.3"/><circle cx="1554.7" cy="1752.5" r="4.3"/><circle cx="1559.3" cy="1750.6" r="4.3"/><circle cx="1564.0" cy="1750.6" r="4.3"/><circle cx="1568.7" cy="1752.9" r="4.3"/><circle cx="1573.4" cy="1750.6" r="4.3"/><circle cx="1578.1" cy="1738.1" r="4.3"/><circle cx="1582.8" cy="1725.0" r="4.3"/><circle cx="1587.5" cy="1723.0" r="4.3"/><circle cx="1592.2" cy="1711.8" r="4.3"/><circle cx="1596.9" cy="1715.1" r="4.3"/><circle cx="1601.6" cy="1710.6" r="4.3"/><circle cx="1606.2" cy="1709.2" r="4.3"/><circle cx="1610.9" cy="1707.5" r="4.3"/><circle cx="1615.6" cy="1704.6" r="4.3"/><circle cx="1620.3" cy="1702.0" r="4.3"/><circle cx="1625.0" cy="1703.2" r="4.3"/><circle cx="1629.7" cy="1702.7" r="4.3"/><circle cx="1634.4" cy="1702.7" r="4.3"/><circle cx="1639.1" cy="1702.7" r="4.3"/><circle cx="1643.8" cy="1702.7" r="4.3"/><circle cx="1648.5" cy="1702.2" r="4.3"/></g>
<g fill="#000080"><circle cx="977.8" cy="1996.5" r="4.3"/><circle cx="982.5" cy="1996.5" r="4.3"/><circle cx="987.2" cy="1996.5" r="4.3"/><circle cx="991.9" cy="1996.5" r="4.3"/><circle cx="996.6" cy="1996.5" r="4.3"/><circle cx="1001.2" cy="1996.5" r="4.3"/><circle cx="1005.9" cy="1996.5" r="4.3"/><circle cx="1010.6" cy="1996.5" r="4.3"/><circle cx="1015.3" cy="1996.5" r="4.3"/><circle cx="1020.0" cy="1996.5" r="4.3"/><circle cx="1024.7" cy="1996.5" r="4.3"/><circle cx="1029.4" cy="1996.5" r="4.3"/><circle cx="1034.1" cy="1996.5" r="4.3"/><circle cx="1038.8" cy="1996.5" r="4.3"/><circle cx="1043.5" cy="1996.5" r="4.3"/><circle cx="1048.1" cy="1996.5" r="4.3"/><circle cx="1052.8" cy="1996.5" r="4.3"/><circle cx="1057.5" cy="1996.5" r="4.3"/><circle cx="1062.2" cy="1996.5" r="4.3"/><circle cx="1066.9" cy="1996.5" r="4.3"/><circle cx="1071.6" cy="1996.5" r="4.3"/><circle cx="1076.3" cy="1996.5" r="4.3"/><circle cx="1081.0" cy="1996.5" r="4.3"/><circle cx="1085.7" cy="1996.5" r="4.3"/><circle cx="1090.4" cy="1996.5" r="4.3"/><circle cx="1095.0" cy="1996.5" r="4.3"/><circle cx="1099.7" cy="1996.5" r="4.3"/><circle cx="1104.4" cy="1996.5" r="4.3"/><circle cx="1109.1" cy="1996.5" r="4.3"/><circle cx="1113.8" cy="1996.5" r="4.3"/><circle cx="1118.5" cy="1996.5" r="4.3"/><circle cx="1123.2" cy="1996.5" r="4.3"/><circle cx="1127.9" cy="1996.5" r="4.3"/><circle cx="1132.6" cy="1996.5" r="4.3"/><circle cx="1137.2" cy="1996.5" r="4.3"/><circle cx="1141.9" cy="1996.5" r="4.3"/><circle cx="1146.6" cy="1996.5" r="4.3"/><circle cx="1151.3" cy="1996.5" r="4.3"/><circle cx="1156.0" cy="1996.5" r="4.3"/><circle cx="1160.7" cy="1996.5" r="4.3"/><circle cx="1165.4" cy="1996.5" r="4.3"/><circle cx="1170.1" cy="1996.5" r="4.3"/><circle cx="1174.8" cy="1996.5" r="4.3"/><circle cx="1179.5" cy="1996.5" r="4.3"/><circle cx="1184.2" cy="1994.8" r="4.3"/><circle cx="1188.8" cy="1994.8" r="4.3"/><circle cx="1193.5" cy="1994.8" r="4.3"/><circle cx="1198.2" cy="1994.8" r="4.3"/><circle cx="1202.9" cy="1994.8" r="4.3"/><circle cx="1207.6" cy="1994.8" r="4.3"/><circle cx="1212.3" cy="1994.8" r="4.3"/><circle cx="1217.0" cy="1996.5" r="4.3"/><circle cx="1221.7" cy="1993.4" r="4.3"/><circle cx="1226.4" cy="1991.5" r="4.3"/><circle cx="1231.1" cy="1991.5" r="4.3"/><circle cx="1235.7" cy="1991.5" r="4.3"/><circle cx="1240.4" cy="1991.5" r="4.3"/><circle cx="1245.1" cy="1991.5" r="4.3"/><circle cx="1249.8" cy="1992.9" r="4.3"/><circle cx="1254.5" cy="1993.9" r="4.3"/><circle cx="1259.2" cy="1993.9" r="4.3"/><circle cx="1263.9" cy="1992.2" r="4.3"/><circle cx="1268.6" cy="1992.9" r="4.3"/><circle cx="1273.3" cy="1992.9" r="4.3"/><circle cx="1278.0" cy="1991.5" r="4.3"/><circle cx="1282.6" cy="1992.9" r="4.3"/><circle cx="1287.3" cy="1988.1" r="4.3"/><circle cx="1292.0" cy="1990.5" r="4.3"/><circle cx="1296.7" cy="1991.5" r="4.3"/><circle cx="1301.4" cy="1992.2" r="4.3"/><circle cx="1306.1" cy="1988.1" r="4.3"/><circle cx="1310.8" cy="1987.4" r="4.3"/><circle cx="1315.5" cy="1985.0" r="4.3"/><circle cx="1320.2" cy="1983.1" r="4.3"/><circle cx="1324.9" cy="1986.2" r="4.3"/><circle cx="1329.5" cy="1979.8" r="4.3"/><circle cx="1334.2" cy="1981.4" r="4.3"/><circle cx="1338.9" cy="1983.8" r="4.3"/><circle cx="1343.6" cy="1982.2" r="4.3"/><circle cx="1348.3" cy="1973.5" r="4.3"/><circle cx="1353.0" cy="1976.7" r="4.3"/><circle cx="1357.7" cy="1973.1" r="4.3"/><circle cx="1362.4" cy="1976.7" r="4.3"/><circle cx="1367.1" cy="1975.5" r="4.3"/><circle cx="1371.8" cy="1971.4" r="4.3"/><circle cx="1376.4" cy="1970.0" r="4.3"/><circle cx="1381.1" cy="1970.0" r="4.3"/><circle cx="1385.8" cy="1971.9" r="4.3"/><circle cx="1390.5" cy="1979.0" r="4.3"/><circle cx="1395.2" cy="1980.7" r="4.3"/><circle cx="1399.9" cy="1970.7" r="4.3"/><circle cx="1404.6" cy="1970.7" r="4.3"/><circle cx="1409.3" cy="1964.7" r="4.3"/><circle cx="1414.0" cy="1963.5" r="4.3"/><circle cx="1418.7" cy="1962.3" r="4.3"/><circle cx="1423.3" cy="1955.1" r="4.3"/><circle cx="1428.0" cy="1962.3" r="4.3"/><circle cx="1432.7" cy="1957.5" r="4.3"/><circle cx="1437.4" cy="1962.3" r="4.3"/><circle cx="1442.1" cy="1956.8" r="4.3"/><circle cx="1446.8" cy="1949.9" r="4.3"/><circle cx="1451.5" cy="1941.5" r="4.3"/><circle cx="1456.2" cy="1950.8" r="4.3"/><circle cx="1460.9" cy="1936.5" r="4.3"/><circle cx="1465.6" cy="1936.5" r="4.3"/><circle cx="1470.2" cy="1937.9" r="4.3"/><circle cx="1474.9" cy="1928.3" r="4.3"/><circle cx="1479.6" cy="1925.7" r="4.3"/><circle cx="1484.3" cy="1940.0" r="4.3"/><circle cx="1489.0" cy="1937.7" r="4.3"/><circle cx="1493.7" cy="1928.8" r="4.3"/><circle cx="1498.4" cy="1926.4" r="4.3"/><circle cx="1503.1" cy="1927.1" r="4.3"/><circle cx="1507.8" cy="1933.1" r="4.3"/><circle cx="1512.5" cy="1931.7" r="4.3"/><circle cx="1517.1" cy="1933.6" r="4.3"/><circle cx="1521.8" cy="1918.8" r="4.3"/><circle cx="1526.5" cy="1911.6" r="4.3"/><circle cx="1531.2" cy="1920.9" r="4.3"/><circle cx="1535.9" cy="1913.7" r="4.3"/><circle cx="1540.6" cy="1918.8" r="4.3"/><circle cx="1545.3" cy="1904.4" r="4.3"/><circle cx="1550.0" cy="1902.5" r="4.3"/><circle cx="1554.7" cy="1870.9" r="4.3"/><circle cx="1559.3" cy="1875.0" r="4.3"/><circle cx="1564.0" cy="1875.4" r="4.3"/><circle cx="1568.7" cy="1866.1" r="4.3"/><circle cx="1573.4" cy="1867.3" r="4.3"/><circle cx="1578.1" cy="1865.4" r="4.3"/><circle cx="1582.8" cy="1858.9" r="4.3"/><circle cx="1587.5" cy="1872.1" r="4.3"/><circle cx="1592.2" cy="1864.7" r="4.3"/><circle cx="1596.9" cy="1845.5" r="4.3"/><circle cx="1601.6" cy="1851.8" r="4.3"/><circle cx="1606.2" cy="1839.1" r="4.3"/><circle cx="1610.9" cy="1839.1" r="4.3"/><circle cx="1615.6" cy="1823.5" r="4.3"/><circle cx="1620.3" cy="1826.4" r="4.3"/><circle cx="1625.0" cy="1837.4" r="4.3"/><circle cx="1629.7" cy="1831.2" r="4.3"/><circle cx="1634.4" cy="1826.4" r="4.3"/><circle cx="1639.1" cy="1806.3" r="4.3"/><circle cx="1643.8" cy="1812.8" r="4.3"/><circle cx="1648.5" cy="1821.1" r="4.3"/></g>
<rect x="944.6" y="1552" width="737.3000000000001" height="465.5999999999999" fill="none" stroke="#333" stroke-width="2.4"/>
<text class="t" x="1163" y="1533.6" font-size="29.8" text-anchor="start" >10 CD14+ Monocytes</text>
<text class="p" font-size="29.8" fill="#1a1a1a" text-anchor="middle" transform="translate(887,1785.8) rotate(-90)">Area under curve</text>
<text class="p" x="1313.2" y="2082.3" font-size="30.4" fill="#1a1a1a" text-anchor="middle"># of DE genes</text>
</g>
</svg></body></html>
